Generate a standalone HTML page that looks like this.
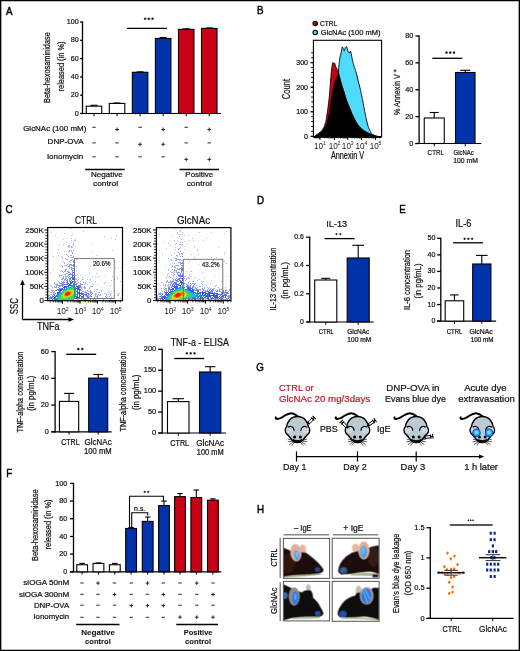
<!DOCTYPE html><html><head><meta charset="utf-8"><style>html,body{margin:0;padding:0;background:#fff;}svg{display:block;font-family:"Liberation Sans",sans-serif;will-change:transform;filter:blur(0.3px);}</style></head><body>
<svg width="520" height="651" viewBox="0 0 520 651">
<rect x="0" y="0" width="520" height="651" fill="#fff"/>
<text x="6.00" y="14.80" font-size="11.4" textLength="6.54" lengthAdjust="spacingAndGlyphs" fill="#000" stroke="#000" stroke-width="0.45">A</text>
<line x1="82.50" y1="21.40" x2="82.50" y2="114.10" stroke="#000" stroke-width="1.30"/>
<line x1="80.10" y1="113.50" x2="82.50" y2="113.50" stroke="#000" stroke-width="1.30"/>
<text x="74.72" y="115.58" font-size="7.70" textLength="3.98" lengthAdjust="spacingAndGlyphs" fill="#111" stroke="#111" stroke-width="0.22">0</text>
<line x1="80.10" y1="95.20" x2="82.50" y2="95.20" stroke="#000" stroke-width="1.30"/>
<text x="70.74" y="97.28" font-size="7.70" textLength="7.96" lengthAdjust="spacingAndGlyphs" fill="#111" stroke="#111" stroke-width="0.22">20</text>
<line x1="80.10" y1="76.90" x2="82.50" y2="76.90" stroke="#000" stroke-width="1.30"/>
<text x="70.74" y="78.98" font-size="7.70" textLength="7.96" lengthAdjust="spacingAndGlyphs" fill="#111" stroke="#111" stroke-width="0.22">40</text>
<line x1="80.10" y1="58.60" x2="82.50" y2="58.60" stroke="#000" stroke-width="1.30"/>
<text x="70.74" y="60.68" font-size="7.70" textLength="7.96" lengthAdjust="spacingAndGlyphs" fill="#111" stroke="#111" stroke-width="0.22">60</text>
<line x1="80.10" y1="40.30" x2="82.50" y2="40.30" stroke="#000" stroke-width="1.30"/>
<text x="70.74" y="42.38" font-size="7.70" textLength="7.96" lengthAdjust="spacingAndGlyphs" fill="#111" stroke="#111" stroke-width="0.22">80</text>
<line x1="80.10" y1="22.00" x2="82.50" y2="22.00" stroke="#000" stroke-width="1.30"/>
<text x="66.75" y="24.08" font-size="7.70" textLength="11.95" lengthAdjust="spacingAndGlyphs" fill="#111" stroke="#111" stroke-width="0.22">100</text>
<text transform="translate(50.41 67.60) rotate(-90)" x="0" y="0" text-anchor="middle" font-size="8.50" textLength="70.70" lengthAdjust="spacingAndGlyphs" fill="#111" stroke="#111" stroke-width="0.22">Beta-hexosaminidase</text>
<text transform="translate(63.50 66.50) rotate(-90)" x="0" y="0" text-anchor="middle" font-size="8.50" textLength="49.90" lengthAdjust="spacingAndGlyphs" fill="#111" stroke="#111" stroke-width="0.22">released (in %)</text>
<line x1="82.50" y1="113.50" x2="221.00" y2="113.50" stroke="#000" stroke-width="1.20"/>
<line x1="94.00" y1="113.50" x2="94.00" y2="116.30" stroke="#000" stroke-width="1.00"/>
<line x1="94.00" y1="106.18" x2="94.00" y2="105.27" stroke="#000" stroke-width="1.10"/>
<line x1="90.50" y1="105.27" x2="97.50" y2="105.27" stroke="#000" stroke-width="1.10"/>
<rect x="86.25" y="106.18" width="15.50" height="7.32" fill="#fff" stroke="#000" stroke-width="1.10"/>
<line x1="117.05" y1="113.50" x2="117.05" y2="116.30" stroke="#000" stroke-width="1.00"/>
<line x1="117.05" y1="103.44" x2="117.05" y2="102.98" stroke="#000" stroke-width="1.10"/>
<line x1="113.55" y1="102.98" x2="120.55" y2="102.98" stroke="#000" stroke-width="1.10"/>
<rect x="109.30" y="103.44" width="15.50" height="10.06" fill="#fff" stroke="#000" stroke-width="1.10"/>
<line x1="140.10" y1="113.50" x2="140.10" y2="116.30" stroke="#000" stroke-width="1.00"/>
<line x1="140.10" y1="72.32" x2="140.10" y2="71.87" stroke="#000" stroke-width="1.10"/>
<line x1="136.60" y1="71.87" x2="143.60" y2="71.87" stroke="#000" stroke-width="1.10"/>
<rect x="132.35" y="72.32" width="15.50" height="41.18" fill="#0233ab" stroke="#000" stroke-width="1.10"/>
<line x1="163.15" y1="113.50" x2="163.15" y2="116.30" stroke="#000" stroke-width="1.00"/>
<line x1="163.15" y1="38.47" x2="163.15" y2="37.55" stroke="#000" stroke-width="1.10"/>
<line x1="159.65" y1="37.55" x2="166.65" y2="37.55" stroke="#000" stroke-width="1.10"/>
<rect x="155.40" y="38.47" width="15.50" height="75.03" fill="#0233ab" stroke="#000" stroke-width="1.10"/>
<line x1="186.20" y1="113.50" x2="186.20" y2="116.30" stroke="#000" stroke-width="1.00"/>
<line x1="186.20" y1="29.32" x2="186.20" y2="28.86" stroke="#000" stroke-width="1.10"/>
<line x1="182.70" y1="28.86" x2="189.70" y2="28.86" stroke="#000" stroke-width="1.10"/>
<rect x="178.45" y="29.32" width="15.50" height="84.18" fill="#c90016" stroke="#000" stroke-width="1.10"/>
<line x1="209.25" y1="113.50" x2="209.25" y2="116.30" stroke="#000" stroke-width="1.00"/>
<line x1="209.25" y1="28.41" x2="209.25" y2="27.95" stroke="#000" stroke-width="1.10"/>
<line x1="205.75" y1="27.95" x2="212.75" y2="27.95" stroke="#000" stroke-width="1.10"/>
<rect x="201.50" y="28.41" width="15.50" height="85.09" fill="#c90016" stroke="#000" stroke-width="1.10"/>
<line x1="127.00" y1="28.30" x2="167.00" y2="28.30" stroke="#000" stroke-width="1.35"/>
<polygon points="145.20,17.50 145.62,18.22 146.44,18.40 145.88,19.02 145.96,19.85 145.20,19.52 144.44,19.85 144.52,19.02 143.96,18.40 144.78,18.22" fill="#000" stroke="#000" stroke-width="0.35" stroke-linejoin="round"/>
<polygon points="148.85,17.50 149.27,18.22 150.09,18.40 149.53,19.02 149.61,19.85 148.85,19.52 148.09,19.85 148.17,19.02 147.61,18.40 148.43,18.22" fill="#000" stroke="#000" stroke-width="0.35" stroke-linejoin="round"/>
<polygon points="152.50,17.50 152.92,18.22 153.74,18.40 153.18,19.02 153.26,19.85 152.50,19.52 151.74,19.85 151.82,19.02 151.26,18.40 152.08,18.22" fill="#000" stroke="#000" stroke-width="0.35" stroke-linejoin="round"/>
<text x="23.20" y="130.60" font-size="8.00" textLength="63.10" lengthAdjust="spacingAndGlyphs" fill="#111" stroke="#111" stroke-width="0.22">GlcNAc (100 mM)</text>
<line x1="92.25" y1="127.30" x2="95.75" y2="127.30" stroke="#222" stroke-width="0.95"/>
<line x1="115.15" y1="129.50" x2="118.95" y2="129.50" stroke="#222" stroke-width="0.95"/>
<line x1="117.05" y1="127.60" x2="117.05" y2="131.40" stroke="#222" stroke-width="0.95"/>
<line x1="138.35" y1="127.30" x2="141.85" y2="127.30" stroke="#222" stroke-width="0.95"/>
<line x1="161.25" y1="129.50" x2="165.05" y2="129.50" stroke="#222" stroke-width="0.95"/>
<line x1="163.15" y1="127.60" x2="163.15" y2="131.40" stroke="#222" stroke-width="0.95"/>
<line x1="184.45" y1="127.30" x2="187.95" y2="127.30" stroke="#222" stroke-width="0.95"/>
<line x1="207.35" y1="129.50" x2="211.15" y2="129.50" stroke="#222" stroke-width="0.95"/>
<line x1="209.25" y1="127.60" x2="209.25" y2="131.40" stroke="#222" stroke-width="0.95"/>
<text x="47.60" y="144.30" font-size="8.00" textLength="36.00" lengthAdjust="spacingAndGlyphs" fill="#111" stroke="#111" stroke-width="0.22">DNP-OVA</text>
<line x1="92.25" y1="142.90" x2="95.75" y2="142.90" stroke="#222" stroke-width="0.95"/>
<line x1="115.30" y1="142.90" x2="118.80" y2="142.90" stroke="#222" stroke-width="0.95"/>
<line x1="138.20" y1="144.30" x2="142.00" y2="144.30" stroke="#222" stroke-width="0.95"/>
<line x1="140.10" y1="142.40" x2="140.10" y2="146.20" stroke="#222" stroke-width="0.95"/>
<line x1="161.25" y1="144.30" x2="165.05" y2="144.30" stroke="#222" stroke-width="0.95"/>
<line x1="163.15" y1="142.40" x2="163.15" y2="146.20" stroke="#222" stroke-width="0.95"/>
<line x1="184.45" y1="142.90" x2="187.95" y2="142.90" stroke="#222" stroke-width="0.95"/>
<line x1="207.50" y1="142.90" x2="211.00" y2="142.90" stroke="#222" stroke-width="0.95"/>
<text x="46.90" y="158.60" font-size="8.00" textLength="36.30" lengthAdjust="spacingAndGlyphs" fill="#111" stroke="#111" stroke-width="0.22">Ionomycin</text>
<line x1="92.25" y1="156.80" x2="95.75" y2="156.80" stroke="#222" stroke-width="0.95"/>
<line x1="115.30" y1="156.80" x2="118.80" y2="156.80" stroke="#222" stroke-width="0.95"/>
<line x1="138.35" y1="156.80" x2="141.85" y2="156.80" stroke="#222" stroke-width="0.95"/>
<line x1="161.40" y1="156.80" x2="164.90" y2="156.80" stroke="#222" stroke-width="0.95"/>
<line x1="184.30" y1="159.40" x2="188.10" y2="159.40" stroke="#222" stroke-width="0.95"/>
<line x1="186.20" y1="157.50" x2="186.20" y2="161.30" stroke="#222" stroke-width="0.95"/>
<line x1="207.35" y1="159.40" x2="211.15" y2="159.40" stroke="#222" stroke-width="0.95"/>
<line x1="209.25" y1="157.50" x2="209.25" y2="161.30" stroke="#222" stroke-width="0.95"/>
<line x1="85.20" y1="169.50" x2="124.70" y2="169.50" stroke="#000" stroke-width="1.35"/>
<line x1="179.50" y1="169.50" x2="219.00" y2="169.50" stroke="#000" stroke-width="1.35"/>
<text x="91.00" y="177.30" font-size="8.10" textLength="31.70" lengthAdjust="spacingAndGlyphs" fill="#111" stroke="#111" stroke-width="0.22">Negative</text>
<text x="93.00" y="185.60" font-size="8.10" textLength="25.00" lengthAdjust="spacingAndGlyphs" fill="#111" stroke="#111" stroke-width="0.22">control</text>
<text x="185.30" y="177.30" font-size="8.10" textLength="28.00" lengthAdjust="spacingAndGlyphs" fill="#111" stroke="#111" stroke-width="0.22">Positive</text>
<text x="186.70" y="185.60" font-size="8.10" textLength="25.10" lengthAdjust="spacingAndGlyphs" fill="#111" stroke="#111" stroke-width="0.22">control</text>
<text x="257.00" y="14.40" font-size="11.4" textLength="6.54" lengthAdjust="spacingAndGlyphs" fill="#000" stroke="#000" stroke-width="0.45">B</text>
<circle cx="315.2" cy="23.4" r="2.2" fill="#c90016" stroke="#000" stroke-width="1.1"/>
<circle cx="315.2" cy="32.4" r="2.2" fill="#50daff" stroke="#000" stroke-width="1.1"/>
<text x="319.90" y="25.70" font-size="7.20" textLength="17.30" lengthAdjust="spacingAndGlyphs" fill="#111" stroke="#111" stroke-width="0.22">CTRL</text>
<text x="320.80" y="34.60" font-size="7.40" textLength="59.70" lengthAdjust="spacingAndGlyphs" fill="#111" stroke="#111" stroke-width="0.22">GlcNAc (100 mM)</text>
<polygon points="314.00,137.00 314.00,137.00 314.25,136.82 314.50,136.65 314.75,136.47 315.00,136.30 315.25,136.12 315.50,135.95 315.75,135.78 316.00,135.60 316.25,135.43 316.50,135.25 316.75,135.08 317.00,134.90 317.25,134.74 317.50,134.58 317.75,134.43 318.00,134.27 318.25,134.11 318.50,133.95 318.75,133.79 319.00,133.63 319.25,133.47 319.50,133.32 319.75,133.16 320.00,133.00 320.25,132.79 320.50,132.57 320.75,132.36 321.00,132.15 321.25,131.94 321.50,131.73 321.75,131.51 322.00,131.30 322.25,130.99 322.50,130.68 322.75,130.36 323.00,130.05 323.25,129.74 323.50,129.43 323.75,129.11 324.00,128.80 324.25,128.33 324.50,127.87 324.75,127.40 325.00,126.93 325.25,126.47 325.50,126.00 325.75,125.42 326.00,124.83 326.25,124.25 326.50,123.67 326.75,123.08 327.00,122.50 327.25,121.45 327.50,120.40 327.75,119.35 328.00,118.30 328.25,117.25 328.50,116.20 328.75,115.15 329.00,114.10 329.25,113.05 329.50,112.00 329.75,110.17 330.00,108.33 330.25,106.50 330.50,104.67 330.75,102.83 331.00,101.00 331.25,99.53 331.50,98.06 331.75,96.59 332.00,95.12 332.25,93.65 332.50,92.18 332.75,90.77 333.00,89.59 333.25,88.42 333.50,87.25 333.75,86.08 334.00,84.91 334.25,83.73 334.50,82.90 334.75,82.15 335.00,81.40 335.25,80.65 335.50,79.90 335.75,79.15 336.00,78.69 336.25,78.30 336.50,77.91 336.75,77.52 337.00,77.12 337.25,76.73 337.50,76.19 337.75,75.41 338.00,74.62 338.25,73.41 338.50,70.47 338.75,67.54 339.00,64.60 339.25,62.70 339.50,60.80 339.75,58.90 340.00,57.00 340.25,56.04 340.50,55.08 340.75,54.12 341.00,53.15 341.25,52.19 341.50,50.90 341.75,49.53 342.00,48.15 342.25,46.78 342.50,47.00 342.75,47.62 343.00,48.25 343.25,48.87 343.50,49.40 343.75,49.90 344.00,50.40 344.25,50.90 344.50,50.30 344.75,49.43 345.00,48.55 345.25,47.68 345.50,47.33 345.75,47.13 346.00,46.92 346.25,46.71 346.50,46.50 346.75,47.25 347.00,48.00 347.25,48.75 347.50,49.50 347.75,50.25 348.00,51.00 348.25,51.75 348.50,52.50 348.75,52.62 349.00,52.75 349.25,52.88 349.50,53.00 349.75,52.50 350.00,52.00 350.25,51.50 350.50,51.00 350.75,52.00 351.00,53.00 351.25,54.00 351.50,55.00 351.75,56.50 352.00,58.00 352.25,59.50 352.50,61.00 352.75,61.83 353.00,62.67 353.25,63.50 353.50,64.33 353.75,65.17 354.00,66.00 354.25,66.75 354.50,67.50 354.75,68.25 355.00,69.00 355.25,69.75 355.50,70.50 355.75,71.25 356.00,72.00 356.25,73.00 356.50,74.00 356.75,75.00 357.00,76.00 357.25,77.00 357.50,78.00 357.75,79.00 358.00,80.00 358.25,81.00 358.50,82.00 358.75,83.00 359.00,84.00 359.25,85.00 359.50,86.00 359.75,87.00 360.00,88.00 360.25,89.12 360.50,90.25 360.75,91.38 361.00,92.50 361.25,93.62 361.50,94.75 361.75,95.88 362.00,97.00 362.25,98.33 362.50,99.67 362.75,101.00 363.00,102.33 363.25,103.67 363.50,105.00 363.75,106.33 364.00,107.67 364.25,109.00 364.50,110.33 364.75,111.67 365.00,113.00 365.25,114.17 365.50,115.33 365.75,116.50 366.00,117.67 366.25,118.83 366.50,120.00 366.75,121.00 367.00,122.00 367.25,123.00 367.50,124.00 367.75,125.00 368.00,126.00 368.25,126.62 368.50,127.25 368.75,127.88 369.00,128.50 369.25,129.12 369.50,129.75 369.75,130.38 370.00,131.00 370.25,131.38 370.50,131.75 370.75,132.12 371.00,132.50 371.25,132.88 371.50,133.25 371.75,133.62 372.00,134.00 372.25,134.17 372.50,134.33 372.75,134.50 373.00,134.67 373.25,134.83 373.50,135.00 373.75,135.17 374.00,135.33 374.25,135.50 374.50,135.67 374.75,135.83 375.00,136.00 375.25,136.04 375.50,136.08 375.75,136.12 376.00,136.17 376.25,136.21 376.50,136.25 376.75,136.29 377.00,136.33 377.25,136.38 377.50,136.42 377.75,136.46 378.00,136.50 378.25,136.54 378.50,136.58 378.75,136.62 379.00,136.67 379.25,136.71 379.50,136.75 379.75,136.79 380.00,136.83 380.25,136.88 380.50,136.92 380.75,136.96 381.00,137.00 381.00,137.00" fill="#50daff" stroke="#000" stroke-width="0.90" stroke-linejoin="round"/>
<polygon points="314.00,137.00 314.00,137.00 314.25,136.80 314.50,136.60 314.75,136.40 315.00,136.20 315.25,136.00 315.50,135.80 315.75,135.60 316.00,135.40 316.25,135.20 316.50,135.00 316.75,134.80 317.00,134.60 317.25,134.42 317.50,134.23 317.75,134.05 318.00,133.87 318.25,133.68 318.50,133.50 318.75,133.32 319.00,133.13 319.25,132.95 319.50,132.77 319.75,132.58 320.00,132.40 320.25,132.14 320.50,131.88 320.75,131.61 321.00,131.35 321.25,131.09 321.50,130.83 321.75,130.56 322.00,130.30 322.25,129.91 322.50,129.53 322.75,129.14 323.00,128.75 323.25,128.36 323.50,127.98 323.75,127.59 324.00,127.20 324.25,126.42 324.50,125.65 324.75,124.88 325.00,124.10 325.25,123.33 325.50,122.55 325.75,121.78 326.00,121.00 326.25,119.38 326.50,117.75 326.75,116.12 327.00,114.50 327.25,112.88 327.50,111.25 327.75,109.62 328.00,108.00 328.25,105.83 328.50,103.67 328.75,101.50 329.00,99.33 329.25,97.17 329.50,95.00 329.75,91.75 330.00,88.50 330.25,85.25 330.50,82.00 330.75,79.00 331.00,76.00 331.25,73.00 331.50,70.00 331.75,68.28 332.00,66.56 332.25,64.84 332.50,63.93 332.75,63.21 333.00,62.50 333.25,62.97 333.50,63.44 333.75,63.91 334.00,63.70 334.25,63.33 334.50,62.95 334.75,63.33 335.00,64.22 335.25,65.11 335.50,66.00 335.75,66.50 336.00,67.00 336.25,67.50 336.50,68.00 336.75,68.50 337.00,69.00 337.25,69.67 337.50,70.33 337.75,71.00 338.00,71.67 338.25,72.33 338.50,73.00 338.75,74.00 339.00,75.00 339.25,76.00 339.50,77.00 339.75,78.00 340.00,79.00 340.25,79.88 340.50,80.75 340.75,81.62 341.00,82.50 341.25,83.38 341.50,84.25 341.75,85.12 342.00,86.00 342.25,86.75 342.50,87.50 342.75,88.25 343.00,89.00 343.25,89.75 343.50,90.50 343.75,91.25 344.00,92.00 344.25,92.88 344.50,93.75 344.75,94.62 345.00,95.50 345.25,96.38 345.50,97.25 345.75,98.12 346.00,99.00 346.25,99.62 346.50,100.25 346.75,100.88 347.00,101.50 347.25,102.12 347.50,102.75 347.75,103.38 348.00,104.00 348.25,104.62 348.50,105.25 348.75,105.88 349.00,106.50 349.25,107.12 349.50,107.75 349.75,108.38 350.00,109.00 350.25,109.62 350.50,110.25 350.75,110.88 351.00,111.50 351.25,112.12 351.50,112.75 351.75,113.38 352.00,114.00 352.25,114.50 352.50,115.00 352.75,115.50 353.00,116.00 353.25,116.50 353.50,117.00 353.75,117.50 354.00,118.00 354.25,118.50 354.50,119.00 354.75,119.50 355.00,120.00 355.25,120.50 355.50,121.00 355.75,121.50 356.00,122.00 356.25,122.38 356.50,122.75 356.75,123.12 357.00,123.50 357.25,123.88 357.50,124.25 357.75,124.62 358.00,125.00 358.25,125.25 358.50,125.50 358.75,125.75 359.00,126.00 359.25,126.25 359.50,126.50 359.75,126.75 360.00,127.00 360.25,127.25 360.50,127.50 360.75,127.75 361.00,128.00 361.25,128.25 361.50,128.50 361.75,128.75 362.00,129.00 362.25,129.25 362.50,129.50 362.75,129.75 363.00,130.00 363.25,130.17 363.50,130.33 363.75,130.50 364.00,130.67 364.25,130.83 364.50,131.00 364.75,131.17 365.00,131.33 365.25,131.50 365.50,131.67 365.75,131.83 366.00,132.00 366.25,132.12 366.50,132.25 366.75,132.38 367.00,132.50 367.25,132.62 367.50,132.75 367.75,132.88 368.00,133.00 368.25,133.12 368.50,133.25 368.75,133.38 369.00,133.50 369.25,133.58 369.50,133.67 369.75,133.75 370.00,133.83 370.25,133.92 370.50,134.00 370.75,134.08 371.00,134.17 371.25,134.25 371.50,134.33 371.75,134.42 372.00,134.50 372.25,134.59 372.50,134.69 372.75,134.78 373.00,134.88 373.25,134.97 373.50,135.06 373.75,135.16 374.00,135.25 374.25,135.34 374.50,135.44 374.75,135.53 375.00,135.62 375.25,135.72 375.50,135.81 375.75,135.91 376.00,136.00 376.25,136.05 376.50,136.10 376.75,136.15 377.00,136.20 377.25,136.25 377.50,136.30 377.75,136.35 378.00,136.40 378.25,136.45 378.50,136.50 378.75,136.55 379.00,136.60 379.25,136.65 379.50,136.70 379.75,136.75 380.00,136.80 380.25,136.85 380.50,136.90 380.75,136.95 381.00,137.00 381.00,137.00" fill="#c90016" stroke="#000" stroke-width="0.90" stroke-linejoin="round"/>
<polygon points="314.00,137.00 314.00,137.00 314.25,136.82 314.50,136.65 314.75,136.47 315.00,136.30 315.25,136.12 315.50,135.95 315.75,135.78 316.00,135.60 316.25,135.43 316.50,135.25 316.75,135.08 317.00,134.90 317.25,134.74 317.50,134.58 317.75,134.43 318.00,134.27 318.25,134.11 318.50,133.95 318.75,133.79 319.00,133.63 319.25,133.47 319.50,133.32 319.75,133.16 320.00,133.00 320.25,132.79 320.50,132.57 320.75,132.36 321.00,132.15 321.25,131.94 321.50,131.73 321.75,131.51 322.00,131.30 322.25,130.99 322.50,130.68 322.75,130.36 323.00,130.05 323.25,129.74 323.50,129.43 323.75,129.11 324.00,128.80 324.25,128.33 324.50,127.87 324.75,127.40 325.00,126.93 325.25,126.47 325.50,126.00 325.75,125.42 326.00,124.83 326.25,124.25 326.50,123.67 326.75,123.08 327.00,122.50 327.25,121.45 327.50,120.40 327.75,119.35 328.00,118.30 328.25,117.25 328.50,116.20 328.75,115.15 329.00,114.10 329.25,113.05 329.50,112.00 329.75,110.17 330.00,108.33 330.25,106.50 330.50,104.67 330.75,102.83 331.00,101.00 331.25,99.53 331.50,98.06 331.75,96.59 332.00,95.12 332.25,93.65 332.50,92.18 332.75,90.77 333.00,89.59 333.25,88.42 333.50,87.25 333.75,86.08 334.00,84.91 334.25,83.73 334.50,82.90 334.75,82.15 335.00,81.40 335.25,80.65 335.50,79.90 335.75,79.15 336.00,78.69 336.25,78.30 336.50,77.91 336.75,77.52 337.00,77.12 337.25,76.73 337.50,76.19 337.75,75.41 338.00,74.62 338.25,73.41 338.50,73.00 338.75,74.00 339.00,75.00 339.25,76.00 339.50,77.00 339.75,78.00 340.00,79.00 340.25,79.88 340.50,80.75 340.75,81.62 341.00,82.50 341.25,83.38 341.50,84.25 341.75,85.12 342.00,86.00 342.25,86.75 342.50,87.50 342.75,88.25 343.00,89.00 343.25,89.75 343.50,90.50 343.75,91.25 344.00,92.00 344.25,92.88 344.50,93.75 344.75,94.62 345.00,95.50 345.25,96.38 345.50,97.25 345.75,98.12 346.00,99.00 346.25,99.62 346.50,100.25 346.75,100.88 347.00,101.50 347.25,102.12 347.50,102.75 347.75,103.38 348.00,104.00 348.25,104.62 348.50,105.25 348.75,105.88 349.00,106.50 349.25,107.12 349.50,107.75 349.75,108.38 350.00,109.00 350.25,109.62 350.50,110.25 350.75,110.88 351.00,111.50 351.25,112.12 351.50,112.75 351.75,113.38 352.00,114.00 352.25,114.50 352.50,115.00 352.75,115.50 353.00,116.00 353.25,116.50 353.50,117.00 353.75,117.50 354.00,118.00 354.25,118.50 354.50,119.00 354.75,119.50 355.00,120.00 355.25,120.50 355.50,121.00 355.75,121.50 356.00,122.00 356.25,122.38 356.50,122.75 356.75,123.12 357.00,123.50 357.25,123.88 357.50,124.25 357.75,124.62 358.00,125.00 358.25,125.25 358.50,125.50 358.75,125.75 359.00,126.00 359.25,126.25 359.50,126.50 359.75,126.75 360.00,127.00 360.25,127.25 360.50,127.50 360.75,127.75 361.00,128.00 361.25,128.25 361.50,128.50 361.75,128.75 362.00,129.00 362.25,129.25 362.50,129.50 362.75,129.75 363.00,130.00 363.25,130.17 363.50,130.33 363.75,130.50 364.00,130.67 364.25,130.83 364.50,131.00 364.75,131.17 365.00,131.33 365.25,131.50 365.50,131.67 365.75,131.83 366.00,132.00 366.25,132.12 366.50,132.25 366.75,132.38 367.00,132.50 367.25,132.62 367.50,132.75 367.75,132.88 368.00,133.00 368.25,133.12 368.50,133.25 368.75,133.38 369.00,133.50 369.25,133.58 369.50,133.67 369.75,133.75 370.00,133.83 370.25,133.92 370.50,134.00 370.75,134.08 371.00,134.17 371.25,134.25 371.50,134.33 371.75,134.42 372.00,134.50 372.25,134.59 372.50,134.69 372.75,134.78 373.00,134.88 373.25,134.97 373.50,135.06 373.75,135.17 374.00,135.33 374.25,135.50 374.50,135.67 374.75,135.83 375.00,136.00 375.25,136.04 375.50,136.08 375.75,136.12 376.00,136.17 376.25,136.21 376.50,136.25 376.75,136.29 377.00,136.33 377.25,136.38 377.50,136.42 377.75,136.46 378.00,136.50 378.25,136.54 378.50,136.58 378.75,136.62 379.00,136.67 379.25,136.71 379.50,136.75 379.75,136.79 380.00,136.83 380.25,136.88 380.50,136.92 380.75,136.96 381.00,137.00 381.00,137.00" fill="#000" stroke="#000" stroke-width="0.50" stroke-linejoin="round"/>
<rect x="313.40" y="40.30" width="68.20" height="96.70" fill="none" stroke="#000" stroke-width="1.10"/>
<line x1="310.40" y1="136.30" x2="313.40" y2="136.30" stroke="#000" stroke-width="1.00"/>
<text x="304.11" y="138.80" font-size="7.00" fill="#111" stroke="#111" stroke-width="0.22">0</text>
<line x1="310.40" y1="111.77" x2="313.40" y2="111.77" stroke="#000" stroke-width="1.00"/>
<text x="296.32" y="114.27" font-size="7.00" fill="#111" stroke="#111" stroke-width="0.22">100</text>
<line x1="310.40" y1="87.23" x2="313.40" y2="87.23" stroke="#000" stroke-width="1.00"/>
<text x="296.32" y="89.73" font-size="7.00" fill="#111" stroke="#111" stroke-width="0.22">200</text>
<line x1="310.40" y1="62.70" x2="313.40" y2="62.70" stroke="#000" stroke-width="1.00"/>
<text x="296.32" y="65.20" font-size="7.00" fill="#111" stroke="#111" stroke-width="0.22">300</text>
<line x1="311.10" y1="136.30" x2="313.40" y2="136.30" stroke="#000" stroke-width="0.90"/>
<line x1="311.10" y1="131.39" x2="313.40" y2="131.39" stroke="#000" stroke-width="0.90"/>
<line x1="311.10" y1="126.49" x2="313.40" y2="126.49" stroke="#000" stroke-width="0.90"/>
<line x1="311.10" y1="121.58" x2="313.40" y2="121.58" stroke="#000" stroke-width="0.90"/>
<line x1="311.10" y1="116.67" x2="313.40" y2="116.67" stroke="#000" stroke-width="0.90"/>
<line x1="311.10" y1="111.77" x2="313.40" y2="111.77" stroke="#000" stroke-width="0.90"/>
<line x1="311.10" y1="106.86" x2="313.40" y2="106.86" stroke="#000" stroke-width="0.90"/>
<line x1="311.10" y1="101.95" x2="313.40" y2="101.95" stroke="#000" stroke-width="0.90"/>
<line x1="311.10" y1="97.05" x2="313.40" y2="97.05" stroke="#000" stroke-width="0.90"/>
<line x1="311.10" y1="92.14" x2="313.40" y2="92.14" stroke="#000" stroke-width="0.90"/>
<line x1="311.10" y1="87.23" x2="313.40" y2="87.23" stroke="#000" stroke-width="0.90"/>
<line x1="311.10" y1="82.33" x2="313.40" y2="82.33" stroke="#000" stroke-width="0.90"/>
<line x1="311.10" y1="77.42" x2="313.40" y2="77.42" stroke="#000" stroke-width="0.90"/>
<line x1="311.10" y1="72.51" x2="313.40" y2="72.51" stroke="#000" stroke-width="0.90"/>
<line x1="311.10" y1="67.61" x2="313.40" y2="67.61" stroke="#000" stroke-width="0.90"/>
<line x1="311.10" y1="62.70" x2="313.40" y2="62.70" stroke="#000" stroke-width="0.90"/>
<line x1="311.10" y1="57.79" x2="313.40" y2="57.79" stroke="#000" stroke-width="0.90"/>
<line x1="311.10" y1="52.89" x2="313.40" y2="52.89" stroke="#000" stroke-width="0.90"/>
<line x1="320.00" y1="137.00" x2="320.00" y2="140.00" stroke="#000" stroke-width="1.00"/>
<text x="314.03" y="148.60" font-size="8.20" fill="#1a1a1a">10</text>
<text x="322.95" y="145.32" font-size="5.08" fill="#1a1a1a">1</text>
<line x1="334.60" y1="137.00" x2="334.60" y2="140.00" stroke="#000" stroke-width="1.00"/>
<text x="328.63" y="148.60" font-size="8.20" fill="#1a1a1a">10</text>
<text x="337.55" y="145.32" font-size="5.08" fill="#1a1a1a">2</text>
<line x1="347.80" y1="137.00" x2="347.80" y2="140.00" stroke="#000" stroke-width="1.00"/>
<text x="341.83" y="148.60" font-size="8.20" fill="#1a1a1a">10</text>
<text x="350.75" y="145.32" font-size="5.08" fill="#1a1a1a">3</text>
<line x1="361.50" y1="137.00" x2="361.50" y2="140.00" stroke="#000" stroke-width="1.00"/>
<text x="355.53" y="148.60" font-size="8.20" fill="#1a1a1a">10</text>
<text x="364.45" y="145.32" font-size="5.08" fill="#1a1a1a">4</text>
<line x1="375.60" y1="137.00" x2="375.60" y2="140.00" stroke="#000" stroke-width="1.00"/>
<text x="369.63" y="148.60" font-size="8.20" fill="#1a1a1a">10</text>
<text x="378.55" y="145.32" font-size="5.08" fill="#1a1a1a">5</text>
<line x1="314.47" y1="137.00" x2="314.47" y2="138.50" stroke="#000" stroke-width="0.60"/>
<line x1="315.82" y1="137.00" x2="315.82" y2="138.50" stroke="#000" stroke-width="0.60"/>
<line x1="316.92" y1="137.00" x2="316.92" y2="138.50" stroke="#000" stroke-width="0.60"/>
<line x1="317.85" y1="137.00" x2="317.85" y2="138.50" stroke="#000" stroke-width="0.60"/>
<line x1="318.65" y1="137.00" x2="318.65" y2="138.50" stroke="#000" stroke-width="0.60"/>
<line x1="319.36" y1="137.00" x2="319.36" y2="138.50" stroke="#000" stroke-width="0.60"/>
<line x1="324.18" y1="137.00" x2="324.18" y2="138.50" stroke="#000" stroke-width="0.60"/>
<line x1="326.63" y1="137.00" x2="326.63" y2="138.50" stroke="#000" stroke-width="0.60"/>
<line x1="328.37" y1="137.00" x2="328.37" y2="138.50" stroke="#000" stroke-width="0.60"/>
<line x1="329.72" y1="137.00" x2="329.72" y2="138.50" stroke="#000" stroke-width="0.60"/>
<line x1="330.82" y1="137.00" x2="330.82" y2="138.50" stroke="#000" stroke-width="0.60"/>
<line x1="331.75" y1="137.00" x2="331.75" y2="138.50" stroke="#000" stroke-width="0.60"/>
<line x1="332.55" y1="137.00" x2="332.55" y2="138.50" stroke="#000" stroke-width="0.60"/>
<line x1="333.26" y1="137.00" x2="333.26" y2="138.50" stroke="#000" stroke-width="0.60"/>
<line x1="338.08" y1="137.00" x2="338.08" y2="138.50" stroke="#000" stroke-width="0.60"/>
<line x1="340.53" y1="137.00" x2="340.53" y2="138.50" stroke="#000" stroke-width="0.60"/>
<line x1="342.27" y1="137.00" x2="342.27" y2="138.50" stroke="#000" stroke-width="0.60"/>
<line x1="343.62" y1="137.00" x2="343.62" y2="138.50" stroke="#000" stroke-width="0.60"/>
<line x1="344.72" y1="137.00" x2="344.72" y2="138.50" stroke="#000" stroke-width="0.60"/>
<line x1="345.65" y1="137.00" x2="345.65" y2="138.50" stroke="#000" stroke-width="0.60"/>
<line x1="346.45" y1="137.00" x2="346.45" y2="138.50" stroke="#000" stroke-width="0.60"/>
<line x1="347.16" y1="137.00" x2="347.16" y2="138.50" stroke="#000" stroke-width="0.60"/>
<line x1="351.98" y1="137.00" x2="351.98" y2="138.50" stroke="#000" stroke-width="0.60"/>
<line x1="354.43" y1="137.00" x2="354.43" y2="138.50" stroke="#000" stroke-width="0.60"/>
<line x1="356.17" y1="137.00" x2="356.17" y2="138.50" stroke="#000" stroke-width="0.60"/>
<line x1="357.52" y1="137.00" x2="357.52" y2="138.50" stroke="#000" stroke-width="0.60"/>
<line x1="358.62" y1="137.00" x2="358.62" y2="138.50" stroke="#000" stroke-width="0.60"/>
<line x1="359.55" y1="137.00" x2="359.55" y2="138.50" stroke="#000" stroke-width="0.60"/>
<line x1="360.35" y1="137.00" x2="360.35" y2="138.50" stroke="#000" stroke-width="0.60"/>
<line x1="361.06" y1="137.00" x2="361.06" y2="138.50" stroke="#000" stroke-width="0.60"/>
<line x1="365.88" y1="137.00" x2="365.88" y2="138.50" stroke="#000" stroke-width="0.60"/>
<line x1="368.33" y1="137.00" x2="368.33" y2="138.50" stroke="#000" stroke-width="0.60"/>
<line x1="370.07" y1="137.00" x2="370.07" y2="138.50" stroke="#000" stroke-width="0.60"/>
<line x1="371.42" y1="137.00" x2="371.42" y2="138.50" stroke="#000" stroke-width="0.60"/>
<line x1="372.52" y1="137.00" x2="372.52" y2="138.50" stroke="#000" stroke-width="0.60"/>
<line x1="373.45" y1="137.00" x2="373.45" y2="138.50" stroke="#000" stroke-width="0.60"/>
<line x1="374.25" y1="137.00" x2="374.25" y2="138.50" stroke="#000" stroke-width="0.60"/>
<line x1="374.96" y1="137.00" x2="374.96" y2="138.50" stroke="#000" stroke-width="0.60"/>
<line x1="379.78" y1="137.00" x2="379.78" y2="138.50" stroke="#000" stroke-width="0.60"/>
<text x="330.90" y="159.40" font-size="10.20" textLength="33.20" lengthAdjust="spacingAndGlyphs" fill="#111" stroke="#111" stroke-width="0.22">Annexin V</text>
<text transform="translate(289.82 89.00) rotate(-90)" x="0" y="0" text-anchor="middle" font-size="10.30" textLength="20.40" lengthAdjust="spacingAndGlyphs" fill="#111" stroke="#111" stroke-width="0.22">Count</text>
<line x1="419.10" y1="35.38" x2="419.10" y2="144.10" stroke="#000" stroke-width="1.30"/>
<line x1="415.40" y1="143.50" x2="419.10" y2="143.50" stroke="#000" stroke-width="1.30"/>
<text x="409.17" y="145.61" font-size="7.80" textLength="4.03" lengthAdjust="spacingAndGlyphs" fill="#111" stroke="#111" stroke-width="0.22">0</text>
<line x1="415.40" y1="116.62" x2="419.10" y2="116.62" stroke="#000" stroke-width="1.30"/>
<text x="405.13" y="118.73" font-size="7.80" textLength="8.07" lengthAdjust="spacingAndGlyphs" fill="#111" stroke="#111" stroke-width="0.22">20</text>
<line x1="415.40" y1="89.74" x2="419.10" y2="89.74" stroke="#000" stroke-width="1.30"/>
<text x="405.13" y="91.85" font-size="7.80" textLength="8.07" lengthAdjust="spacingAndGlyphs" fill="#111" stroke="#111" stroke-width="0.22">40</text>
<line x1="415.40" y1="62.86" x2="419.10" y2="62.86" stroke="#000" stroke-width="1.30"/>
<text x="405.13" y="64.97" font-size="7.80" textLength="8.07" lengthAdjust="spacingAndGlyphs" fill="#111" stroke="#111" stroke-width="0.22">60</text>
<line x1="415.40" y1="35.98" x2="419.10" y2="35.98" stroke="#000" stroke-width="1.30"/>
<text x="405.13" y="38.09" font-size="7.80" textLength="8.07" lengthAdjust="spacingAndGlyphs" fill="#111" stroke="#111" stroke-width="0.22">80</text>
<line x1="415.40" y1="143.50" x2="481.25" y2="143.50" stroke="#000" stroke-width="1.20"/>
<line x1="434.25" y1="143.50" x2="434.25" y2="146.30" stroke="#000" stroke-width="1.00"/>
<line x1="465.25" y1="143.50" x2="465.25" y2="146.30" stroke="#000" stroke-width="1.00"/>
<line x1="434.25" y1="118.00" x2="434.25" y2="112.50" stroke="#000" stroke-width="1.10"/>
<line x1="429.75" y1="112.50" x2="438.75" y2="112.50" stroke="#000" stroke-width="1.10"/>
<rect x="424.25" y="118.00" width="20.00" height="25.50" fill="#fff" stroke="#000" stroke-width="1.10"/>
<line x1="465.25" y1="72.50" x2="465.25" y2="70.30" stroke="#000" stroke-width="1.10"/>
<line x1="460.25" y1="70.30" x2="470.25" y2="70.30" stroke="#000" stroke-width="1.10"/>
<rect x="455.50" y="72.50" width="19.50" height="71.00" fill="#0233ab" stroke="#000" stroke-width="1.10"/>
<line x1="432.30" y1="58.30" x2="462.30" y2="58.30" stroke="#000" stroke-width="1.30"/>
<polygon points="446.50,51.30 446.92,52.02 447.74,52.20 447.18,52.82 447.26,53.65 446.50,53.32 445.74,53.65 445.82,52.82 445.26,52.20 446.08,52.02" fill="#000" stroke="#000" stroke-width="0.35" stroke-linejoin="round"/>
<polygon points="450.20,51.30 450.62,52.02 451.44,52.20 450.88,52.82 450.96,53.65 450.20,53.32 449.44,53.65 449.52,52.82 448.96,52.20 449.78,52.02" fill="#000" stroke="#000" stroke-width="0.35" stroke-linejoin="round"/>
<polygon points="454.00,51.30 454.42,52.02 455.24,52.20 454.68,52.82 454.76,53.65 454.00,53.32 453.24,53.65 453.32,52.82 452.76,52.20 453.58,52.02" fill="#000" stroke="#000" stroke-width="0.35" stroke-linejoin="round"/>
<text transform="translate(400.39 94.60) rotate(-90)" x="0" y="0" text-anchor="middle" font-size="8.20" textLength="40.80" lengthAdjust="spacingAndGlyphs" fill="#111" stroke="#111" stroke-width="0.22">% Annexin V</text>
<line x1="395.05" y1="69.30" x2="395.05" y2="72.40" stroke="#222" stroke-width="0.95"/>
<line x1="393.60" y1="70.85" x2="396.50" y2="70.85" stroke="#222" stroke-width="0.95"/>
<text x="427.60" y="155.30" font-size="7.30" textLength="16.40" lengthAdjust="spacingAndGlyphs" fill="#111" stroke="#111" stroke-width="0.22">CTRL</text>
<text x="453.60" y="155.30" font-size="7.30" textLength="20.20" lengthAdjust="spacingAndGlyphs" fill="#111" stroke="#111" stroke-width="0.22">GlcNAc</text>
<text x="453.30" y="163.20" font-size="7.30" textLength="24.60" lengthAdjust="spacingAndGlyphs" fill="#111" stroke="#111" stroke-width="0.22">100 mM</text>
<text x="5.50" y="212.60" font-size="11.4" textLength="7.08" lengthAdjust="spacingAndGlyphs" fill="#000" stroke="#000" stroke-width="0.45">C</text>
<path fill="#b2bcfa" d="M69 228h1v1h-1zM71 228h1v1h-1zM83 231h1v1h-1zM51 232h1v1h-1zM64 233h1v1h-1zM72 234h1v1h-1zM55 235h1v1h-1zM71 235h1v1h-1zM116 235h1v1h-1zM104 236h1v1h-1zM71 238h1v1h-1zM111 238h1v1h-1zM63 239h1v1h-1zM75 239h1v1h-1zM115 239h1v1h-1zM71 240h1v1h-1zM74 240h1v1h-1zM75 240h1v1h-1zM66 242h1v1h-1zM71 242h1v1h-1zM92 243h1v1h-1zM63 244h1v1h-1zM59 245h1v1h-1zM68 245h1v1h-1zM67 246h1v1h-1zM69 246h1v1h-1zM75 246h1v1h-1zM58 249h1v1h-1zM112 250h1v1h-1zM64 251h1v1h-1zM68 251h1v1h-1zM91 251h1v1h-1zM57 253h1v1h-1zM64 254h1v1h-1zM58 255h1v1h-1zM67 255h1v1h-1zM96 255h1v1h-1zM53 256h1v1h-1zM61 256h1v1h-1zM62 257h1v1h-1zM62 258h1v1h-1zM65 258h1v1h-1zM76 259h1v1h-1zM74 260h1v1h-1zM96 260h1v1h-1zM63 261h1v1h-1zM98 261h1v1h-1zM64 262h1v1h-1zM61 265h1v1h-1zM62 266h1v1h-1zM76 266h1v1h-1zM90 266h1v1h-1zM62 267h1v1h-1zM74 267h1v1h-1zM110 267h1v1h-1zM115 267h1v1h-1zM118 267h1v1h-1zM94 268h1v1h-1zM53 269h1v1h-1zM61 270h1v1h-1zM76 270h1v1h-1zM60 271h1v1h-1zM121 271h1v1h-1zM50 272h1v1h-1zM89 273h1v1h-1zM96 273h1v1h-1zM59 274h1v1h-1zM77 274h1v1h-1zM59 275h1v1h-1zM80 275h1v1h-1zM105 275h1v1h-1zM59 276h1v1h-1zM92 276h1v1h-1zM95 276h1v1h-1zM99 276h1v1h-1zM112 276h1v1h-1zM78 277h1v1h-1zM82 277h1v1h-1zM97 277h1v1h-1zM114 277h1v1h-1zM117 278h1v1h-1zM83 279h1v1h-1zM87 279h1v1h-1zM90 279h1v1h-1zM114 279h1v1h-1zM57 280h1v1h-1zM111 280h1v1h-1zM95 281h1v1h-1zM120 281h1v1h-1zM54 282h1v1h-1zM89 282h1v1h-1zM105 282h1v1h-1zM54 283h1v1h-1zM104 283h1v1h-1zM93 284h1v1h-1zM97 284h1v1h-1zM50 285h1v1h-1zM110 285h1v1h-1zM51 286h1v1h-1zM90 286h1v1h-1zM91 286h1v1h-1zM101 286h1v1h-1zM48 288h1v1h-1zM94 289h1v1h-1zM96 289h1v1h-1zM97 289h1v1h-1zM101 290h1v1h-1zM48 291h1v1h-1zM101 291h1v1h-1zM108 291h1v1h-1zM111 291h1v1h-1zM121 291h1v1h-1zM109 292h1v1h-1zM119 293h1v1h-1zM118 294h1v1h-1zM117 295h1v1h-1zM118 295h1v1h-1zM120 297h1v1h-1zM111 298h1v1h-1zM121 298h1v1h-1zM110 299h1v1h-1z"/>
<path fill="#9eabf8" d="M73 241h1v1h-1zM73 243h1v1h-1zM73 244h1v1h-1zM69 245h1v1h-1zM73 245h1v1h-1zM68 246h1v1h-1zM71 246h1v1h-1zM69 247h1v1h-1zM71 247h1v1h-1zM72 247h1v1h-1zM69 250h1v1h-1zM71 250h1v1h-1zM73 250h1v1h-1zM69 251h1v1h-1zM71 251h1v1h-1zM72 253h1v1h-1zM66 254h1v1h-1zM70 255h1v1h-1zM71 255h1v1h-1zM68 256h1v1h-1zM70 257h1v1h-1zM71 257h1v1h-1zM72 257h1v1h-1zM73 257h1v1h-1zM66 259h1v1h-1zM67 259h1v1h-1zM72 259h1v1h-1zM70 260h1v1h-1zM73 260h1v1h-1zM64 263h1v1h-1zM67 264h1v1h-1zM64 265h1v1h-1zM65 265h1v1h-1zM66 265h1v1h-1zM71 265h1v1h-1zM67 266h1v1h-1zM69 267h1v1h-1zM65 269h1v1h-1zM66 269h1v1h-1zM62 271h1v1h-1zM64 271h1v1h-1zM65 271h1v1h-1zM67 271h1v1h-1zM68 271h1v1h-1zM63 272h1v1h-1zM66 273h1v1h-1zM67 273h1v1h-1zM62 274h1v1h-1zM64 274h1v1h-1zM65 274h1v1h-1zM74 274h1v1h-1zM60 275h1v1h-1zM61 275h1v1h-1zM74 275h1v1h-1zM75 275h1v1h-1zM63 276h1v1h-1zM65 276h1v1h-1zM66 276h1v1h-1zM62 277h1v1h-1zM63 277h1v1h-1zM65 277h1v1h-1zM74 277h1v1h-1zM62 278h1v1h-1zM63 278h1v1h-1zM65 278h1v1h-1zM75 278h1v1h-1zM62 279h1v1h-1zM64 279h1v1h-1zM75 279h1v1h-1zM76 279h1v1h-1zM78 279h1v1h-1zM82 279h1v1h-1zM77 280h1v1h-1zM58 281h1v1h-1zM61 281h1v1h-1zM75 281h1v1h-1zM80 281h1v1h-1zM83 282h1v1h-1zM85 282h1v1h-1zM57 283h1v1h-1zM59 283h1v1h-1zM85 283h1v1h-1zM55 284h1v1h-1zM56 284h1v1h-1zM57 284h1v1h-1zM81 284h1v1h-1zM84 284h1v1h-1zM87 284h1v1h-1zM56 285h1v1h-1zM57 285h1v1h-1zM54 286h1v1h-1zM56 286h1v1h-1zM84 286h1v1h-1zM92 286h1v1h-1zM52 287h1v1h-1zM54 287h1v1h-1zM55 287h1v1h-1zM83 287h1v1h-1zM84 287h1v1h-1zM85 287h1v1h-1zM89 287h1v1h-1zM84 288h1v1h-1zM85 288h1v1h-1zM89 288h1v1h-1zM51 290h1v1h-1zM52 290h1v1h-1zM53 290h1v1h-1zM90 290h1v1h-1zM49 291h1v1h-1zM52 291h1v1h-1zM85 291h1v1h-1zM88 291h1v1h-1zM90 291h1v1h-1zM91 291h1v1h-1zM94 291h1v1h-1zM50 292h1v1h-1zM51 292h1v1h-1zM98 292h1v1h-1zM99 292h1v1h-1zM95 293h1v1h-1zM104 293h1v1h-1zM110 293h1v1h-1zM117 293h1v1h-1zM95 294h1v1h-1zM96 294h1v1h-1zM98 294h1v1h-1zM100 294h1v1h-1zM106 294h1v1h-1zM108 294h1v1h-1zM110 294h1v1h-1zM48 295h1v1h-1zM49 295h1v1h-1zM95 295h1v1h-1zM97 295h1v1h-1zM99 295h1v1h-1zM100 295h1v1h-1zM106 295h1v1h-1zM110 295h1v1h-1zM114 295h1v1h-1zM48 296h1v1h-1zM95 296h1v1h-1zM96 296h1v1h-1zM105 296h1v1h-1zM107 296h1v1h-1zM109 296h1v1h-1zM94 297h1v1h-1zM97 297h1v1h-1zM106 297h1v1h-1zM111 297h1v1h-1zM90 298h1v1h-1zM92 298h1v1h-1zM96 298h1v1h-1zM97 298h1v1h-1zM104 298h1v1h-1zM106 298h1v1h-1zM107 298h1v1h-1zM109 298h1v1h-1zM85 299h1v1h-1zM86 299h1v1h-1zM93 299h1v1h-1zM95 299h1v1h-1zM103 299h1v1h-1z"/>
<path fill="#8b9af6" d="M72 252h1v1h-1zM73 256h1v1h-1zM71 260h1v1h-1zM69 261h1v1h-1zM73 261h1v1h-1zM69 264h1v1h-1zM70 264h1v1h-1zM73 264h1v1h-1zM69 265h1v1h-1zM68 266h1v1h-1zM69 266h1v1h-1zM73 266h1v1h-1zM69 268h1v1h-1zM71 268h1v1h-1zM71 269h1v1h-1zM65 270h1v1h-1zM73 270h1v1h-1zM72 271h1v1h-1zM69 272h1v1h-1zM72 273h1v1h-1zM69 274h1v1h-1zM65 275h1v1h-1zM68 275h1v1h-1zM69 276h1v1h-1zM70 277h1v1h-1zM66 278h1v1h-1zM74 278h1v1h-1zM61 279h1v1h-1zM67 279h1v1h-1zM69 279h1v1h-1zM74 279h1v1h-1zM64 280h1v1h-1zM66 280h1v1h-1zM67 281h1v1h-1zM76 281h1v1h-1zM59 282h1v1h-1zM63 282h1v1h-1zM66 282h1v1h-1zM75 282h1v1h-1zM78 282h1v1h-1zM62 283h1v1h-1zM63 283h1v1h-1zM76 283h1v1h-1zM77 283h1v1h-1zM61 284h1v1h-1zM62 284h1v1h-1zM63 284h1v1h-1zM80 284h1v1h-1zM82 284h1v1h-1zM60 285h1v1h-1zM61 285h1v1h-1zM80 285h1v1h-1zM59 286h1v1h-1zM60 286h1v1h-1zM56 287h1v1h-1zM80 287h1v1h-1zM81 287h1v1h-1zM59 288h1v1h-1zM81 288h1v1h-1zM57 289h1v1h-1zM82 289h1v1h-1zM55 290h1v1h-1zM81 290h1v1h-1zM87 290h1v1h-1zM54 291h1v1h-1zM83 291h1v1h-1zM54 292h1v1h-1zM84 292h1v1h-1zM86 292h1v1h-1zM90 292h1v1h-1zM91 292h1v1h-1zM53 293h1v1h-1zM87 293h1v1h-1zM90 293h1v1h-1zM51 294h1v1h-1zM88 294h1v1h-1zM91 294h1v1h-1zM52 295h1v1h-1zM87 295h1v1h-1zM88 295h1v1h-1zM90 295h1v1h-1zM50 296h1v1h-1zM86 296h1v1h-1zM88 296h1v1h-1zM89 296h1v1h-1zM90 296h1v1h-1zM87 297h1v1h-1zM49 298h1v1h-1zM84 298h1v1h-1zM99 298h1v1h-1zM77 299h1v1h-1zM81 299h1v1h-1zM83 299h1v1h-1zM90 299h1v1h-1z"/>
<path fill="#788af5" d="M73 262h1v1h-1zM71 264h1v1h-1zM72 265h1v1h-1zM71 267h1v1h-1zM68 272h1v1h-1zM68 274h1v1h-1zM67 276h1v1h-1zM65 279h1v1h-1zM70 279h1v1h-1zM69 280h1v1h-1zM63 281h1v1h-1zM69 281h1v1h-1zM62 282h1v1h-1zM60 283h1v1h-1zM61 283h1v1h-1zM67 283h1v1h-1zM80 283h1v1h-1zM65 284h1v1h-1zM58 285h1v1h-1zM59 285h1v1h-1zM63 285h1v1h-1zM76 285h1v1h-1zM62 286h1v1h-1zM58 287h1v1h-1zM60 288h1v1h-1zM79 288h1v1h-1zM80 290h1v1h-1zM53 292h1v1h-1zM92 293h1v1h-1zM54 294h1v1h-1zM83 294h1v1h-1zM84 294h1v1h-1zM85 295h1v1h-1zM86 295h1v1h-1zM97 296h1v1h-1zM81 297h1v1h-1zM82 297h1v1h-1zM50 298h1v1h-1zM78 298h1v1h-1zM89 298h1v1h-1zM49 299h1v1h-1zM84 299h1v1h-1z"/>
<path fill="#697cf2" d="M73 265h1v1h-1zM72 268h1v1h-1zM73 268h1v1h-1zM72 270h1v1h-1zM72 272h1v1h-1zM70 273h1v1h-1zM70 274h1v1h-1zM71 274h1v1h-1zM68 277h1v1h-1zM69 278h1v1h-1zM67 280h1v1h-1zM64 282h1v1h-1zM74 282h1v1h-1zM76 284h1v1h-1zM62 285h1v1h-1zM78 285h1v1h-1zM79 285h1v1h-1zM80 286h1v1h-1zM56 290h1v1h-1zM82 291h1v1h-1zM85 292h1v1h-1zM86 293h1v1h-1zM88 293h1v1h-1zM89 294h1v1h-1zM91 296h1v1h-1zM49 297h1v1h-1zM50 297h1v1h-1zM88 297h1v1h-1zM48 298h1v1h-1zM82 298h1v1h-1z"/>
<path fill="#5b6ef0" d="M73 272h1v1h-1zM72 274h1v1h-1zM72 275h1v1h-1zM72 276h1v1h-1zM71 277h1v1h-1zM72 277h1v1h-1zM70 278h1v1h-1zM67 282h1v1h-1zM64 284h1v1h-1zM74 284h1v1h-1zM75 284h1v1h-1zM78 286h1v1h-1zM79 286h1v1h-1zM79 287h1v1h-1zM58 289h1v1h-1zM80 289h1v1h-1zM81 292h1v1h-1zM83 293h1v1h-1zM53 294h1v1h-1zM85 294h1v1h-1zM86 294h1v1h-1zM52 296h1v1h-1zM87 296h1v1h-1zM51 297h1v1h-1zM83 297h1v1h-1zM80 298h1v1h-1zM81 298h1v1h-1z"/>
<path fill="#4c60ee" d="M73 275h1v1h-1zM73 277h1v1h-1zM72 278h1v1h-1zM72 279h1v1h-1zM71 280h1v1h-1zM70 281h1v1h-1zM68 283h1v1h-1zM66 284h1v1h-1zM77 286h1v1h-1zM78 287h1v1h-1zM61 288h1v1h-1zM59 289h1v1h-1zM79 289h1v1h-1zM58 290h1v1h-1zM79 290h1v1h-1zM55 293h1v1h-1zM81 293h1v1h-1zM82 293h1v1h-1zM82 294h1v1h-1zM54 295h1v1h-1zM83 295h1v1h-1zM53 296h1v1h-1zM82 296h1v1h-1zM83 296h1v1h-1zM52 297h1v1h-1zM51 298h1v1h-1z"/>
<path fill="#3e52ec" d="M73 278h1v1h-1zM73 279h1v1h-1zM72 281h1v1h-1zM70 282h1v1h-1zM71 282h1v1h-1zM70 283h1v1h-1zM67 284h1v1h-1zM74 285h1v1h-1zM64 286h1v1h-1zM65 286h1v1h-1zM76 286h1v1h-1zM63 287h1v1h-1zM77 287h1v1h-1zM62 288h1v1h-1zM78 288h1v1h-1zM60 289h1v1h-1zM78 289h1v1h-1zM59 290h1v1h-1zM79 291h1v1h-1zM57 292h1v1h-1zM79 292h1v1h-1zM80 293h1v1h-1zM81 294h1v1h-1zM81 296h1v1h-1zM78 297h1v1h-1zM79 297h1v1h-1zM76 298h1v1h-1z"/>
<path fill="#3453eb" d="M73 281h1v1h-1zM72 282h1v1h-1zM71 283h1v1h-1zM69 284h1v1h-1zM70 284h1v1h-1zM68 285h1v1h-1zM66 286h1v1h-1zM74 286h1v1h-1zM64 287h1v1h-1zM77 288h1v1h-1zM61 289h1v1h-1zM60 290h1v1h-1zM59 291h1v1h-1zM58 292h1v1h-1zM78 292h1v1h-1zM57 293h1v1h-1zM79 293h1v1h-1zM79 294h1v1h-1zM79 295h1v1h-1zM80 295h1v1h-1zM79 296h1v1h-1zM54 297h1v1h-1zM77 297h1v1h-1zM53 298h1v1h-1zM52 299h1v1h-1z"/>
<path fill="#2e63ec" d="M73 283h1v1h-1zM69 285h1v1h-1zM67 286h1v1h-1zM65 287h1v1h-1zM75 287h1v1h-1zM76 288h1v1h-1zM62 289h1v1h-1zM77 289h1v1h-1zM77 290h1v1h-1zM77 291h1v1h-1zM78 293h1v1h-1zM56 295h1v1h-1zM55 296h1v1h-1zM77 296h1v1h-1zM76 297h1v1h-1zM54 298h1v1h-1zM75 298h1v1h-1z"/>
<path fill="#2974ed" d="M70 285h1v1h-1zM71 285h1v1h-1zM68 286h1v1h-1zM66 287h1v1h-1zM74 287h1v1h-1zM64 288h1v1h-1zM61 290h1v1h-1zM60 291h1v1h-1zM59 292h1v1h-1zM77 292h1v1h-1zM58 293h1v1h-1zM77 293h1v1h-1zM57 294h1v1h-1zM77 294h1v1h-1zM77 295h1v1h-1zM56 296h1v1h-1zM76 296h1v1h-1zM55 297h1v1h-1zM55 298h1v1h-1zM54 299h1v1h-1z"/>
<path fill="#2385ee" d="M73 284h1v1h-1zM72 285h1v1h-1zM75 288h1v1h-1zM63 289h1v1h-1zM76 291h1v1h-1zM57 295h1v1h-1zM55 299h1v1h-1z"/>
<path fill="#1e96f0" d="M73 285h1v1h-1zM71 286h1v1h-1zM68 287h1v1h-1zM66 288h1v1h-1zM74 288h1v1h-1zM64 289h1v1h-1zM75 289h1v1h-1zM60 292h1v1h-1zM59 293h1v1h-1zM58 294h1v1h-1zM76 294h1v1h-1zM57 296h1v1h-1zM75 296h1v1h-1zM74 297h1v1h-1zM56 298h1v1h-1zM56 299h1v1h-1z"/>
<path fill="#20a6dc" d="M72 286h1v1h-1zM69 287h1v1h-1zM63 290h1v1h-1zM75 290h1v1h-1zM58 295h1v1h-1zM57 297h1v1h-1zM57 298h1v1h-1zM57 299h1v1h-1z"/>
<path fill="#23b7c9" d="M73 286h1v1h-1zM70 287h1v1h-1zM67 288h1v1h-1zM65 289h1v1h-1zM74 289h1v1h-1zM62 291h1v1h-1zM75 291h1v1h-1zM61 292h1v1h-1zM75 292h1v1h-1zM60 293h1v1h-1zM75 293h1v1h-1zM59 294h1v1h-1zM75 294h1v1h-1zM75 295h1v1h-1zM58 296h1v1h-1zM74 296h1v1h-1z"/>
<path fill="#26c8b5" d="M71 287h1v1h-1zM68 288h1v1h-1zM66 289h1v1h-1zM64 290h1v1h-1zM59 295h1v1h-1zM58 297h1v1h-1zM58 298h1v1h-1zM58 299h1v1h-1zM70 299h1v1h-1zM71 299h1v1h-1z"/>
<path fill="#2ad39d" d="M72 287h1v1h-1zM73 287h1v1h-1zM69 288h1v1h-1zM74 290h1v1h-1zM63 291h1v1h-1zM60 294h1v1h-1zM74 295h1v1h-1zM59 296h1v1h-1zM59 298h1v1h-1zM70 298h1v1h-1zM71 298h1v1h-1zM72 298h1v1h-1zM59 299h1v1h-1zM68 299h1v1h-1zM69 299h1v1h-1zM72 299h1v1h-1z"/>
<path fill="#2fd57f" d="M70 288h1v1h-1zM67 289h1v1h-1zM65 290h1v1h-1zM74 291h1v1h-1zM62 292h1v1h-1zM74 292h1v1h-1zM61 293h1v1h-1zM74 293h1v1h-1zM74 294h1v1h-1zM59 297h1v1h-1zM71 297h1v1h-1zM72 297h1v1h-1zM73 297h1v1h-1zM69 298h1v1h-1zM73 298h1v1h-1zM60 299h1v1h-1zM61 299h1v1h-1zM66 299h1v1h-1zM67 299h1v1h-1zM73 299h1v1h-1z"/>
<path fill="#35d860" d="M71 288h1v1h-1zM72 288h1v1h-1zM68 289h1v1h-1zM64 291h1v1h-1zM60 295h1v1h-1zM60 296h1v1h-1zM73 296h1v1h-1zM60 297h1v1h-1zM70 297h1v1h-1zM60 298h1v1h-1zM68 298h1v1h-1zM62 299h1v1h-1zM63 299h1v1h-1zM64 299h1v1h-1zM65 299h1v1h-1z"/>
<path fill="#3adb42" d="M73 288h1v1h-1zM66 290h1v1h-1zM63 292h1v1h-1zM62 293h1v1h-1zM61 294h1v1h-1zM73 295h1v1h-1zM71 296h1v1h-1zM72 296h1v1h-1zM69 297h1v1h-1zM61 298h1v1h-1zM62 298h1v1h-1zM66 298h1v1h-1zM67 298h1v1h-1z"/>
<path fill="#5bde35" d="M69 289h1v1h-1zM70 289h1v1h-1zM71 289h1v1h-1zM61 295h1v1h-1zM72 295h1v1h-1zM61 296h1v1h-1zM70 296h1v1h-1zM61 297h1v1h-1zM68 297h1v1h-1zM63 298h1v1h-1zM64 298h1v1h-1zM65 298h1v1h-1z"/>
<path fill="#81e12d" d="M72 289h1v1h-1zM73 289h1v1h-1zM67 290h1v1h-1zM65 291h1v1h-1zM62 294h1v1h-1zM73 294h1v1h-1zM71 295h1v1h-1zM62 297h1v1h-1zM67 297h1v1h-1z"/>
<path fill="#a8e324" d="M73 290h1v1h-1zM64 292h1v1h-1zM63 293h1v1h-1zM73 293h1v1h-1zM72 294h1v1h-1zM62 295h1v1h-1zM62 296h1v1h-1zM69 296h1v1h-1zM63 297h1v1h-1zM66 297h1v1h-1z"/>
<path fill="#cae11d" d="M68 290h1v1h-1zM69 290h1v1h-1zM70 290h1v1h-1zM71 290h1v1h-1zM72 290h1v1h-1zM73 291h1v1h-1zM73 292h1v1h-1zM71 294h1v1h-1zM70 295h1v1h-1zM68 296h1v1h-1zM64 297h1v1h-1zM65 297h1v1h-1z"/>
<path fill="#d8cb1a" d="M66 291h1v1h-1zM72 291h1v1h-1zM72 292h1v1h-1zM72 293h1v1h-1zM63 294h1v1h-1zM63 295h1v1h-1zM63 296h1v1h-1z"/>
<path fill="#e6b517" d="M71 291h1v1h-1zM64 293h1v1h-1zM71 293h1v1h-1zM69 295h1v1h-1zM64 296h1v1h-1zM67 296h1v1h-1z"/>
<path fill="#f49e15" d="M67 291h1v1h-1zM69 291h1v1h-1zM70 291h1v1h-1zM65 292h1v1h-1zM71 292h1v1h-1zM64 294h1v1h-1zM70 294h1v1h-1zM64 295h1v1h-1zM65 296h1v1h-1zM66 296h1v1h-1z"/>
<path fill="#f78114" d="M68 291h1v1h-1zM70 292h1v1h-1zM70 293h1v1h-1zM68 295h1v1h-1z"/>
<path fill="#f36014" d="M69 294h1v1h-1zM65 295h1v1h-1z"/>
<path fill="#ef3f14" d="M66 292h1v1h-1zM69 292h1v1h-1zM65 293h1v1h-1zM66 295h1v1h-1zM67 295h1v1h-1z"/>
<path fill="#eb1e14" d="M67 292h1v1h-1zM68 292h1v1h-1zM66 293h1v1h-1zM67 293h1v1h-1zM68 293h1v1h-1zM69 293h1v1h-1zM65 294h1v1h-1zM66 294h1v1h-1zM67 294h1v1h-1zM68 294h1v1h-1z"/>
<rect x="74.50" y="258.60" width="39.70" height="39.90" fill="none" stroke="#6a6a6a" stroke-width="0.90"/>
<rect x="47.70" y="227.50" width="74.80" height="73.20" fill="none" stroke="#000" stroke-width="1.20"/>
<text x="92.90" y="265.70" font-size="7.20" textLength="17.60" lengthAdjust="spacingAndGlyphs" fill="#222" stroke="#222" stroke-width="0.22">20.6%</text>
<text x="75.10" y="223.80" font-size="10.40" textLength="21.80" lengthAdjust="spacingAndGlyphs" fill="#111" stroke="#111" stroke-width="0.22">CTRL</text>
<line x1="44.30" y1="300.50" x2="47.70" y2="300.50" stroke="#000" stroke-width="1.00"/>
<text x="39.41" y="303.10" font-size="7.90" fill="#111" stroke="#111" stroke-width="0.22">0</text>
<line x1="45.30" y1="297.68" x2="47.70" y2="297.68" stroke="#000" stroke-width="0.80"/>
<line x1="45.30" y1="294.86" x2="47.70" y2="294.86" stroke="#000" stroke-width="0.80"/>
<line x1="45.30" y1="292.04" x2="47.70" y2="292.04" stroke="#000" stroke-width="0.80"/>
<line x1="45.30" y1="289.22" x2="47.70" y2="289.22" stroke="#000" stroke-width="0.80"/>
<line x1="44.30" y1="286.40" x2="47.70" y2="286.40" stroke="#000" stroke-width="1.00"/>
<text x="29.74" y="289.00" font-size="7.90" fill="#111" stroke="#111" stroke-width="0.22">50K</text>
<line x1="45.30" y1="283.58" x2="47.70" y2="283.58" stroke="#000" stroke-width="0.80"/>
<line x1="45.30" y1="280.76" x2="47.70" y2="280.76" stroke="#000" stroke-width="0.80"/>
<line x1="45.30" y1="277.94" x2="47.70" y2="277.94" stroke="#000" stroke-width="0.80"/>
<line x1="45.30" y1="275.12" x2="47.70" y2="275.12" stroke="#000" stroke-width="0.80"/>
<line x1="44.30" y1="272.30" x2="47.70" y2="272.30" stroke="#000" stroke-width="1.00"/>
<text x="25.35" y="274.90" font-size="7.90" fill="#111" stroke="#111" stroke-width="0.22">100K</text>
<line x1="45.30" y1="269.48" x2="47.70" y2="269.48" stroke="#000" stroke-width="0.80"/>
<line x1="45.30" y1="266.66" x2="47.70" y2="266.66" stroke="#000" stroke-width="0.80"/>
<line x1="45.30" y1="263.84" x2="47.70" y2="263.84" stroke="#000" stroke-width="0.80"/>
<line x1="45.30" y1="261.02" x2="47.70" y2="261.02" stroke="#000" stroke-width="0.80"/>
<line x1="44.30" y1="258.20" x2="47.70" y2="258.20" stroke="#000" stroke-width="1.00"/>
<text x="25.35" y="260.80" font-size="7.90" fill="#111" stroke="#111" stroke-width="0.22">150K</text>
<line x1="45.30" y1="255.38" x2="47.70" y2="255.38" stroke="#000" stroke-width="0.80"/>
<line x1="45.30" y1="252.56" x2="47.70" y2="252.56" stroke="#000" stroke-width="0.80"/>
<line x1="45.30" y1="249.74" x2="47.70" y2="249.74" stroke="#000" stroke-width="0.80"/>
<line x1="45.30" y1="246.92" x2="47.70" y2="246.92" stroke="#000" stroke-width="0.80"/>
<line x1="44.30" y1="244.10" x2="47.70" y2="244.10" stroke="#000" stroke-width="1.00"/>
<text x="25.35" y="246.70" font-size="7.90" fill="#111" stroke="#111" stroke-width="0.22">200K</text>
<line x1="45.30" y1="241.28" x2="47.70" y2="241.28" stroke="#000" stroke-width="0.80"/>
<line x1="45.30" y1="238.46" x2="47.70" y2="238.46" stroke="#000" stroke-width="0.80"/>
<line x1="45.30" y1="235.64" x2="47.70" y2="235.64" stroke="#000" stroke-width="0.80"/>
<line x1="45.30" y1="232.82" x2="47.70" y2="232.82" stroke="#000" stroke-width="0.80"/>
<line x1="44.30" y1="230.00" x2="47.70" y2="230.00" stroke="#000" stroke-width="1.00"/>
<text x="25.35" y="232.60" font-size="7.90" fill="#111" stroke="#111" stroke-width="0.22">250K</text>
<line x1="62.50" y1="300.70" x2="62.50" y2="303.70" stroke="#000" stroke-width="1.00"/>
<text x="56.68" y="314.00" font-size="8.40" fill="#1a1a1a">10</text>
<text x="65.82" y="310.64" font-size="5.21" fill="#1a1a1a">2</text>
<line x1="80.00" y1="300.70" x2="80.00" y2="303.70" stroke="#000" stroke-width="1.00"/>
<text x="74.18" y="314.00" font-size="8.40" fill="#1a1a1a">10</text>
<text x="83.32" y="310.64" font-size="5.21" fill="#1a1a1a">3</text>
<line x1="97.50" y1="300.70" x2="97.50" y2="303.70" stroke="#000" stroke-width="1.00"/>
<text x="91.68" y="314.00" font-size="8.40" fill="#1a1a1a">10</text>
<text x="100.82" y="310.64" font-size="5.21" fill="#1a1a1a">4</text>
<line x1="115.50" y1="300.70" x2="115.50" y2="303.70" stroke="#000" stroke-width="1.00"/>
<text x="109.68" y="314.00" font-size="8.40" fill="#1a1a1a">10</text>
<text x="118.82" y="310.64" font-size="5.21" fill="#1a1a1a">5</text>
<line x1="50.27" y1="300.70" x2="50.27" y2="302.50" stroke="#000" stroke-width="0.70"/>
<line x1="53.35" y1="300.70" x2="53.35" y2="302.50" stroke="#000" stroke-width="0.70"/>
<line x1="55.54" y1="300.70" x2="55.54" y2="302.50" stroke="#000" stroke-width="0.70"/>
<line x1="57.23" y1="300.70" x2="57.23" y2="302.50" stroke="#000" stroke-width="0.70"/>
<line x1="58.62" y1="300.70" x2="58.62" y2="302.50" stroke="#000" stroke-width="0.70"/>
<line x1="59.79" y1="300.70" x2="59.79" y2="302.50" stroke="#000" stroke-width="0.70"/>
<line x1="60.80" y1="300.70" x2="60.80" y2="302.50" stroke="#000" stroke-width="0.70"/>
<line x1="61.70" y1="300.70" x2="61.70" y2="302.50" stroke="#000" stroke-width="0.70"/>
<line x1="67.77" y1="300.70" x2="67.77" y2="302.50" stroke="#000" stroke-width="0.70"/>
<line x1="70.85" y1="300.70" x2="70.85" y2="302.50" stroke="#000" stroke-width="0.70"/>
<line x1="73.04" y1="300.70" x2="73.04" y2="302.50" stroke="#000" stroke-width="0.70"/>
<line x1="74.73" y1="300.70" x2="74.73" y2="302.50" stroke="#000" stroke-width="0.70"/>
<line x1="76.12" y1="300.70" x2="76.12" y2="302.50" stroke="#000" stroke-width="0.70"/>
<line x1="77.29" y1="300.70" x2="77.29" y2="302.50" stroke="#000" stroke-width="0.70"/>
<line x1="78.30" y1="300.70" x2="78.30" y2="302.50" stroke="#000" stroke-width="0.70"/>
<line x1="79.20" y1="300.70" x2="79.20" y2="302.50" stroke="#000" stroke-width="0.70"/>
<line x1="85.27" y1="300.70" x2="85.27" y2="302.50" stroke="#000" stroke-width="0.70"/>
<line x1="88.35" y1="300.70" x2="88.35" y2="302.50" stroke="#000" stroke-width="0.70"/>
<line x1="90.54" y1="300.70" x2="90.54" y2="302.50" stroke="#000" stroke-width="0.70"/>
<line x1="92.23" y1="300.70" x2="92.23" y2="302.50" stroke="#000" stroke-width="0.70"/>
<line x1="93.62" y1="300.70" x2="93.62" y2="302.50" stroke="#000" stroke-width="0.70"/>
<line x1="94.79" y1="300.70" x2="94.79" y2="302.50" stroke="#000" stroke-width="0.70"/>
<line x1="95.80" y1="300.70" x2="95.80" y2="302.50" stroke="#000" stroke-width="0.70"/>
<line x1="96.70" y1="300.70" x2="96.70" y2="302.50" stroke="#000" stroke-width="0.70"/>
<line x1="102.77" y1="300.70" x2="102.77" y2="302.50" stroke="#000" stroke-width="0.70"/>
<line x1="105.85" y1="300.70" x2="105.85" y2="302.50" stroke="#000" stroke-width="0.70"/>
<line x1="108.04" y1="300.70" x2="108.04" y2="302.50" stroke="#000" stroke-width="0.70"/>
<line x1="109.73" y1="300.70" x2="109.73" y2="302.50" stroke="#000" stroke-width="0.70"/>
<line x1="111.12" y1="300.70" x2="111.12" y2="302.50" stroke="#000" stroke-width="0.70"/>
<line x1="112.29" y1="300.70" x2="112.29" y2="302.50" stroke="#000" stroke-width="0.70"/>
<line x1="113.30" y1="300.70" x2="113.30" y2="302.50" stroke="#000" stroke-width="0.70"/>
<line x1="114.20" y1="300.70" x2="114.20" y2="302.50" stroke="#000" stroke-width="0.70"/>
<line x1="120.27" y1="300.70" x2="120.27" y2="302.50" stroke="#000" stroke-width="0.70"/>
<path fill="#b2bcfa" d="M166 228h1v1h-1zM181 228h1v1h-1zM182 228h1v1h-1zM157 229h1v1h-1zM174 229h1v1h-1zM179 230h1v1h-1zM180 230h1v1h-1zM180 231h1v1h-1zM226 231h1v1h-1zM177 232h1v1h-1zM199 232h1v1h-1zM211 232h1v1h-1zM177 233h1v1h-1zM224 233h1v1h-1zM159 234h1v1h-1zM179 234h1v1h-1zM180 234h1v1h-1zM184 235h1v1h-1zM188 235h1v1h-1zM172 236h1v1h-1zM179 236h1v1h-1zM177 237h1v1h-1zM180 238h1v1h-1zM192 238h1v1h-1zM206 238h1v1h-1zM174 240h1v1h-1zM177 240h1v1h-1zM189 240h1v1h-1zM193 240h1v1h-1zM203 240h1v1h-1zM184 241h1v1h-1zM163 242h1v1h-1zM168 243h1v1h-1zM176 243h1v1h-1zM157 244h1v1h-1zM175 244h1v1h-1zM179 244h1v1h-1zM170 245h1v1h-1zM185 246h1v1h-1zM194 246h1v1h-1zM175 247h1v1h-1zM218 247h1v1h-1zM166 248h1v1h-1zM178 248h1v1h-1zM175 249h1v1h-1zM185 249h1v1h-1zM197 249h1v1h-1zM197 250h1v1h-1zM183 252h1v1h-1zM224 252h1v1h-1zM174 253h1v1h-1zM162 254h1v1h-1zM191 254h1v1h-1zM198 254h1v1h-1zM224 254h1v1h-1zM171 255h1v1h-1zM194 257h1v1h-1zM211 257h1v1h-1zM216 257h1v1h-1zM168 258h1v1h-1zM174 258h1v1h-1zM170 259h1v1h-1zM171 259h1v1h-1zM213 259h1v1h-1zM171 260h1v1h-1zM172 260h1v1h-1zM213 260h1v1h-1zM189 261h1v1h-1zM212 261h1v1h-1zM224 261h1v1h-1zM172 263h1v1h-1zM188 263h1v1h-1zM226 263h1v1h-1zM170 264h1v1h-1zM198 264h1v1h-1zM216 264h1v1h-1zM165 265h1v1h-1zM183 268h1v1h-1zM168 269h1v1h-1zM183 269h1v1h-1zM168 270h1v1h-1zM170 271h1v1h-1zM186 271h1v1h-1zM190 271h1v1h-1zM191 271h1v1h-1zM202 272h1v1h-1zM168 273h1v1h-1zM189 274h1v1h-1zM167 276h1v1h-1zM184 276h1v1h-1zM185 276h1v1h-1zM190 276h1v1h-1zM214 276h1v1h-1zM227 276h1v1h-1zM166 277h1v1h-1zM187 277h1v1h-1zM188 277h1v1h-1zM194 277h1v1h-1zM166 278h1v1h-1zM186 278h1v1h-1zM188 278h1v1h-1zM189 278h1v1h-1zM195 278h1v1h-1zM204 278h1v1h-1zM199 279h1v1h-1zM197 280h1v1h-1zM211 280h1v1h-1zM201 281h1v1h-1zM203 281h1v1h-1zM221 281h1v1h-1zM222 281h1v1h-1zM161 282h1v1h-1zM202 282h1v1h-1zM201 283h1v1h-1zM210 283h1v1h-1zM163 284h1v1h-1zM202 284h1v1h-1zM160 285h1v1h-1zM206 285h1v1h-1zM216 285h1v1h-1zM214 286h1v1h-1zM215 286h1v1h-1zM209 287h1v1h-1zM218 287h1v1h-1zM225 287h1v1h-1z"/>
<path fill="#9eabf8" d="M182 232h1v1h-1zM182 234h1v1h-1zM181 239h1v1h-1zM180 242h1v1h-1zM182 242h1v1h-1zM180 244h1v1h-1zM182 244h1v1h-1zM182 245h1v1h-1zM180 247h1v1h-1zM179 248h1v1h-1zM178 249h1v1h-1zM180 251h1v1h-1zM178 252h1v1h-1zM179 253h1v1h-1zM181 253h1v1h-1zM182 253h1v1h-1zM179 254h1v1h-1zM182 254h1v1h-1zM176 255h1v1h-1zM177 255h1v1h-1zM177 256h1v1h-1zM175 258h1v1h-1zM176 258h1v1h-1zM176 259h1v1h-1zM177 259h1v1h-1zM179 259h1v1h-1zM180 259h1v1h-1zM175 260h1v1h-1zM176 260h1v1h-1zM179 260h1v1h-1zM178 262h1v1h-1zM179 262h1v1h-1zM174 263h1v1h-1zM180 263h1v1h-1zM180 264h1v1h-1zM172 265h1v1h-1zM175 265h1v1h-1zM176 265h1v1h-1zM178 265h1v1h-1zM172 266h1v1h-1zM174 266h1v1h-1zM177 266h1v1h-1zM174 267h1v1h-1zM177 268h1v1h-1zM179 268h1v1h-1zM172 269h1v1h-1zM174 269h1v1h-1zM177 269h1v1h-1zM175 270h1v1h-1zM176 270h1v1h-1zM174 271h1v1h-1zM171 272h1v1h-1zM172 272h1v1h-1zM176 272h1v1h-1zM177 272h1v1h-1zM173 273h1v1h-1zM177 273h1v1h-1zM167 274h1v1h-1zM171 274h1v1h-1zM169 276h1v1h-1zM170 277h1v1h-1zM173 277h1v1h-1zM172 278h1v1h-1zM184 278h1v1h-1zM186 279h1v1h-1zM167 280h1v1h-1zM170 280h1v1h-1zM185 280h1v1h-1zM166 281h1v1h-1zM167 281h1v1h-1zM170 281h1v1h-1zM171 281h1v1h-1zM189 281h1v1h-1zM192 281h1v1h-1zM193 281h1v1h-1zM166 282h1v1h-1zM168 282h1v1h-1zM169 282h1v1h-1zM170 282h1v1h-1zM171 282h1v1h-1zM183 282h1v1h-1zM188 282h1v1h-1zM185 283h1v1h-1zM188 283h1v1h-1zM190 283h1v1h-1zM193 283h1v1h-1zM194 283h1v1h-1zM195 283h1v1h-1zM165 284h1v1h-1zM168 284h1v1h-1zM187 284h1v1h-1zM191 284h1v1h-1zM163 285h1v1h-1zM165 285h1v1h-1zM167 285h1v1h-1zM168 285h1v1h-1zM193 285h1v1h-1zM193 286h1v1h-1zM199 286h1v1h-1zM200 286h1v1h-1zM202 286h1v1h-1zM164 287h1v1h-1zM195 287h1v1h-1zM197 287h1v1h-1zM204 287h1v1h-1zM207 287h1v1h-1zM161 288h1v1h-1zM163 288h1v1h-1zM166 288h1v1h-1zM208 288h1v1h-1zM210 288h1v1h-1zM213 288h1v1h-1zM214 288h1v1h-1zM222 288h1v1h-1zM164 289h1v1h-1zM165 289h1v1h-1zM203 289h1v1h-1zM207 289h1v1h-1zM209 289h1v1h-1zM210 289h1v1h-1zM213 289h1v1h-1zM219 289h1v1h-1zM220 289h1v1h-1zM229 289h1v1h-1zM161 290h1v1h-1zM222 290h1v1h-1zM226 290h1v1h-1zM229 290h1v1h-1zM162 291h1v1h-1zM228 291h1v1h-1zM160 292h1v1h-1zM158 293h1v1h-1zM159 293h1v1h-1zM161 293h1v1h-1zM158 294h1v1h-1zM160 294h1v1h-1zM157 295h1v1h-1zM157 296h1v1h-1z"/>
<path fill="#8b9af6" d="M180 256h1v1h-1zM178 259h1v1h-1zM180 262h1v1h-1zM182 262h1v1h-1zM177 265h1v1h-1zM181 265h1v1h-1zM182 265h1v1h-1zM182 266h1v1h-1zM175 267h1v1h-1zM180 268h1v1h-1zM181 268h1v1h-1zM174 270h1v1h-1zM181 270h1v1h-1zM176 271h1v1h-1zM174 272h1v1h-1zM178 272h1v1h-1zM181 272h1v1h-1zM180 273h1v1h-1zM174 274h1v1h-1zM177 274h1v1h-1zM173 275h1v1h-1zM181 275h1v1h-1zM178 276h1v1h-1zM179 276h1v1h-1zM180 277h1v1h-1zM176 278h1v1h-1zM178 278h1v1h-1zM177 279h1v1h-1zM173 280h1v1h-1zM175 280h1v1h-1zM173 281h1v1h-1zM176 281h1v1h-1zM177 281h1v1h-1zM172 282h1v1h-1zM176 282h1v1h-1zM171 283h1v1h-1zM174 283h1v1h-1zM192 283h1v1h-1zM170 284h1v1h-1zM173 284h1v1h-1zM174 284h1v1h-1zM194 284h1v1h-1zM184 285h1v1h-1zM188 285h1v1h-1zM196 285h1v1h-1zM165 286h1v1h-1zM169 286h1v1h-1zM171 286h1v1h-1zM188 286h1v1h-1zM190 286h1v1h-1zM194 286h1v1h-1zM193 287h1v1h-1zM195 288h1v1h-1zM202 288h1v1h-1zM204 288h1v1h-1zM166 289h1v1h-1zM168 289h1v1h-1zM197 289h1v1h-1zM198 289h1v1h-1zM199 289h1v1h-1zM200 289h1v1h-1zM212 289h1v1h-1zM221 289h1v1h-1zM166 290h1v1h-1zM200 290h1v1h-1zM203 290h1v1h-1zM204 290h1v1h-1zM205 290h1v1h-1zM207 290h1v1h-1zM209 290h1v1h-1zM211 290h1v1h-1zM223 290h1v1h-1zM225 290h1v1h-1zM209 291h1v1h-1zM210 291h1v1h-1zM211 291h1v1h-1zM217 291h1v1h-1zM222 291h1v1h-1zM164 292h1v1h-1zM222 292h1v1h-1zM224 292h1v1h-1zM160 293h1v1h-1zM223 293h1v1h-1zM224 293h1v1h-1zM228 293h1v1h-1zM159 294h1v1h-1zM226 294h1v1h-1zM161 295h1v1h-1zM228 295h1v1h-1zM229 295h1v1h-1zM161 296h1v1h-1zM227 296h1v1h-1zM228 296h1v1h-1zM229 296h1v1h-1zM157 297h1v1h-1zM224 297h1v1h-1zM157 298h1v1h-1zM158 298h1v1h-1zM220 298h1v1h-1zM227 298h1v1h-1zM211 299h1v1h-1zM214 299h1v1h-1zM215 299h1v1h-1zM218 299h1v1h-1zM220 299h1v1h-1zM223 299h1v1h-1zM224 299h1v1h-1zM225 299h1v1h-1zM226 299h1v1h-1z"/>
<path fill="#788af5" d="M182 256h1v1h-1zM181 260h1v1h-1zM181 263h1v1h-1zM182 263h1v1h-1zM178 269h1v1h-1zM179 269h1v1h-1zM179 272h1v1h-1zM178 274h1v1h-1zM182 274h1v1h-1zM176 276h1v1h-1zM180 278h1v1h-1zM173 279h1v1h-1zM179 279h1v1h-1zM179 280h1v1h-1zM172 281h1v1h-1zM176 283h1v1h-1zM184 283h1v1h-1zM186 284h1v1h-1zM190 285h1v1h-1zM192 286h1v1h-1zM168 287h1v1h-1zM189 287h1v1h-1zM165 288h1v1h-1zM196 288h1v1h-1zM170 289h1v1h-1zM202 289h1v1h-1zM168 290h1v1h-1zM196 290h1v1h-1zM212 290h1v1h-1zM213 290h1v1h-1zM215 290h1v1h-1zM217 290h1v1h-1zM219 290h1v1h-1zM164 291h1v1h-1zM205 291h1v1h-1zM219 291h1v1h-1zM220 291h1v1h-1zM223 291h1v1h-1zM225 291h1v1h-1zM211 292h1v1h-1zM212 292h1v1h-1zM162 293h1v1h-1zM165 293h1v1h-1zM221 293h1v1h-1zM220 294h1v1h-1zM224 294h1v1h-1zM159 296h1v1h-1zM161 297h1v1h-1zM220 297h1v1h-1zM223 297h1v1h-1zM160 298h1v1h-1zM217 298h1v1h-1zM158 299h1v1h-1zM222 299h1v1h-1zM227 299h1v1h-1zM229 299h1v1h-1z"/>
<path fill="#697cf2" d="M181 267h1v1h-1zM182 268h1v1h-1zM181 269h1v1h-1zM182 269h1v1h-1zM181 271h1v1h-1zM180 274h1v1h-1zM178 275h1v1h-1zM179 275h1v1h-1zM180 275h1v1h-1zM175 279h1v1h-1zM176 280h1v1h-1zM174 282h1v1h-1zM173 283h1v1h-1zM172 284h1v1h-1zM183 284h1v1h-1zM170 285h1v1h-1zM172 285h1v1h-1zM187 285h1v1h-1zM189 286h1v1h-1zM169 287h1v1h-1zM192 287h1v1h-1zM168 288h1v1h-1zM196 289h1v1h-1zM212 291h1v1h-1zM216 291h1v1h-1zM221 292h1v1h-1zM223 292h1v1h-1zM225 292h1v1h-1zM226 292h1v1h-1zM227 292h1v1h-1zM226 293h1v1h-1zM227 293h1v1h-1zM162 294h1v1h-1zM160 296h1v1h-1zM228 297h1v1h-1zM229 297h1v1h-1zM222 298h1v1h-1zM226 298h1v1h-1zM228 298h1v1h-1zM221 299h1v1h-1z"/>
<path fill="#5b6ef0" d="M182 270h1v1h-1zM180 276h1v1h-1zM181 276h1v1h-1zM179 278h1v1h-1zM178 279h1v1h-1zM177 280h1v1h-1zM178 281h1v1h-1zM175 282h1v1h-1zM175 283h1v1h-1zM175 284h1v1h-1zM174 285h1v1h-1zM172 286h1v1h-1zM186 286h1v1h-1zM187 286h1v1h-1zM171 287h1v1h-1zM190 287h1v1h-1zM169 288h1v1h-1zM191 288h1v1h-1zM192 288h1v1h-1zM169 289h1v1h-1zM193 289h1v1h-1zM194 289h1v1h-1zM197 290h1v1h-1zM198 290h1v1h-1zM166 291h1v1h-1zM206 291h1v1h-1zM207 291h1v1h-1zM208 291h1v1h-1zM165 292h1v1h-1zM166 292h1v1h-1zM214 292h1v1h-1zM222 293h1v1h-1zM225 294h1v1h-1zM225 295h1v1h-1zM226 295h1v1h-1zM162 296h1v1h-1zM225 296h1v1h-1zM221 297h1v1h-1zM225 297h1v1h-1zM159 298h1v1h-1zM215 298h1v1h-1zM216 298h1v1h-1zM219 298h1v1h-1zM221 298h1v1h-1zM157 299h1v1h-1zM208 299h1v1h-1zM209 299h1v1h-1z"/>
<path fill="#4c60ee" d="M182 275h1v1h-1zM182 276h1v1h-1zM181 278h1v1h-1zM180 280h1v1h-1zM180 281h1v1h-1zM176 284h1v1h-1zM177 284h1v1h-1zM173 286h1v1h-1zM174 286h1v1h-1zM188 287h1v1h-1zM190 288h1v1h-1zM192 289h1v1h-1zM195 290h1v1h-1zM168 291h1v1h-1zM202 291h1v1h-1zM167 292h1v1h-1zM208 292h1v1h-1zM209 292h1v1h-1zM210 292h1v1h-1zM166 293h1v1h-1zM213 293h1v1h-1zM214 293h1v1h-1zM215 293h1v1h-1zM216 293h1v1h-1zM217 293h1v1h-1zM165 294h1v1h-1zM217 294h1v1h-1zM218 294h1v1h-1zM219 294h1v1h-1zM221 294h1v1h-1zM164 295h1v1h-1zM220 295h1v1h-1zM222 295h1v1h-1zM223 295h1v1h-1zM224 295h1v1h-1zM163 296h1v1h-1zM219 296h1v1h-1zM221 296h1v1h-1zM222 296h1v1h-1zM223 296h1v1h-1zM162 297h1v1h-1zM215 297h1v1h-1zM216 297h1v1h-1zM217 297h1v1h-1zM218 297h1v1h-1zM161 298h1v1h-1zM211 298h1v1h-1zM212 298h1v1h-1zM213 298h1v1h-1zM202 299h1v1h-1zM203 299h1v1h-1z"/>
<path fill="#3e52ec" d="M182 278h1v1h-1zM182 279h1v1h-1zM182 280h1v1h-1zM181 281h1v1h-1zM180 282h1v1h-1zM181 282h1v1h-1zM179 283h1v1h-1zM178 284h1v1h-1zM176 285h1v1h-1zM175 286h1v1h-1zM176 286h1v1h-1zM174 287h1v1h-1zM187 287h1v1h-1zM172 288h1v1h-1zM173 288h1v1h-1zM189 288h1v1h-1zM171 289h1v1h-1zM170 290h1v1h-1zM193 290h1v1h-1zM197 291h1v1h-1zM198 291h1v1h-1zM202 292h1v1h-1zM203 292h1v1h-1zM204 292h1v1h-1zM205 292h1v1h-1zM208 293h1v1h-1zM209 293h1v1h-1zM210 293h1v1h-1zM211 293h1v1h-1zM212 293h1v1h-1zM166 294h1v1h-1zM213 294h1v1h-1zM214 294h1v1h-1zM216 294h1v1h-1zM214 295h1v1h-1zM215 295h1v1h-1zM216 295h1v1h-1zM217 295h1v1h-1zM164 296h1v1h-1zM213 296h1v1h-1zM214 296h1v1h-1zM215 296h1v1h-1zM216 296h1v1h-1zM217 296h1v1h-1zM163 297h1v1h-1zM210 297h1v1h-1zM212 297h1v1h-1zM214 297h1v1h-1zM162 298h1v1h-1zM207 298h1v1h-1zM208 298h1v1h-1zM160 299h1v1h-1zM198 299h1v1h-1zM200 299h1v1h-1z"/>
<path fill="#3453eb" d="M182 282h1v1h-1zM181 283h1v1h-1zM178 285h1v1h-1zM179 285h1v1h-1zM177 286h1v1h-1zM175 287h1v1h-1zM184 287h1v1h-1zM188 288h1v1h-1zM172 289h1v1h-1zM190 289h1v1h-1zM191 290h1v1h-1zM192 290h1v1h-1zM170 291h1v1h-1zM199 292h1v1h-1zM200 292h1v1h-1zM201 292h1v1h-1zM205 293h1v1h-1zM206 293h1v1h-1zM207 293h1v1h-1zM208 294h1v1h-1zM209 294h1v1h-1zM209 295h1v1h-1zM210 295h1v1h-1zM211 295h1v1h-1zM212 295h1v1h-1zM213 295h1v1h-1zM165 296h1v1h-1zM209 296h1v1h-1zM210 296h1v1h-1zM164 297h1v1h-1zM205 297h1v1h-1zM207 297h1v1h-1zM208 297h1v1h-1zM200 298h1v1h-1zM201 298h1v1h-1zM202 298h1v1h-1zM203 298h1v1h-1zM162 299h1v1h-1zM194 299h1v1h-1zM195 299h1v1h-1z"/>
<path fill="#2e63ec" d="M182 283h1v1h-1zM181 284h1v1h-1zM180 285h1v1h-1zM176 287h1v1h-1zM177 287h1v1h-1zM183 287h1v1h-1zM175 288h1v1h-1zM187 288h1v1h-1zM173 289h1v1h-1zM189 289h1v1h-1zM172 290h1v1h-1zM190 290h1v1h-1zM192 291h1v1h-1zM193 291h1v1h-1zM169 292h1v1h-1zM197 292h1v1h-1zM168 293h1v1h-1zM202 293h1v1h-1zM203 293h1v1h-1zM167 294h1v1h-1zM204 294h1v1h-1zM205 294h1v1h-1zM207 294h1v1h-1zM166 295h1v1h-1zM206 295h1v1h-1zM207 295h1v1h-1zM208 295h1v1h-1zM205 296h1v1h-1zM206 296h1v1h-1zM207 296h1v1h-1zM208 296h1v1h-1zM202 297h1v1h-1zM204 297h1v1h-1zM164 298h1v1h-1zM197 298h1v1h-1zM199 298h1v1h-1zM163 299h1v1h-1zM191 299h1v1h-1zM192 299h1v1h-1z"/>
<path fill="#2974ed" d="M180 286h1v1h-1zM176 288h1v1h-1zM188 289h1v1h-1zM189 290h1v1h-1zM171 291h1v1h-1zM191 291h1v1h-1zM170 292h1v1h-1zM194 292h1v1h-1zM195 292h1v1h-1zM198 293h1v1h-1zM199 293h1v1h-1zM200 293h1v1h-1zM168 294h1v1h-1zM202 294h1v1h-1zM167 295h1v1h-1zM202 295h1v1h-1zM203 295h1v1h-1zM204 295h1v1h-1zM205 295h1v1h-1zM201 296h1v1h-1zM203 296h1v1h-1zM165 297h1v1h-1zM198 297h1v1h-1zM200 297h1v1h-1zM201 297h1v1h-1zM194 298h1v1h-1zM195 298h1v1h-1zM188 299h1v1h-1zM189 299h1v1h-1z"/>
<path fill="#2385ee" d="M182 285h1v1h-1zM179 287h1v1h-1zM177 288h1v1h-1zM175 289h1v1h-1zM187 289h1v1h-1zM172 291h1v1h-1zM190 291h1v1h-1zM192 292h1v1h-1zM193 292h1v1h-1zM195 293h1v1h-1zM196 293h1v1h-1zM197 293h1v1h-1zM198 294h1v1h-1zM200 294h1v1h-1zM199 295h1v1h-1zM200 295h1v1h-1zM201 295h1v1h-1zM199 296h1v1h-1zM200 296h1v1h-1zM166 297h1v1h-1zM197 297h1v1h-1zM165 298h1v1h-1zM192 298h1v1h-1zM193 298h1v1h-1z"/>
<path fill="#1e96f0" d="M182 286h1v1h-1zM180 287h1v1h-1zM178 288h1v1h-1zM183 288h1v1h-1zM176 289h1v1h-1zM186 289h1v1h-1zM174 290h1v1h-1zM188 290h1v1h-1zM189 291h1v1h-1zM171 292h1v1h-1zM191 292h1v1h-1zM170 293h1v1h-1zM193 293h1v1h-1zM169 294h1v1h-1zM196 294h1v1h-1zM197 294h1v1h-1zM168 295h1v1h-1zM197 295h1v1h-1zM167 296h1v1h-1zM196 296h1v1h-1zM197 296h1v1h-1zM198 296h1v1h-1zM193 297h1v1h-1zM194 297h1v1h-1zM195 297h1v1h-1zM166 298h1v1h-1zM189 298h1v1h-1zM190 298h1v1h-1zM165 299h1v1h-1zM185 299h1v1h-1z"/>
<path fill="#20a6dc" d="M181 287h1v1h-1zM179 288h1v1h-1zM185 289h1v1h-1zM187 290h1v1h-1zM173 291h1v1h-1zM190 292h1v1h-1zM192 293h1v1h-1zM194 294h1v1h-1zM195 295h1v1h-1zM196 295h1v1h-1zM168 296h1v1h-1zM194 296h1v1h-1zM195 296h1v1h-1zM167 297h1v1h-1zM191 297h1v1h-1zM192 297h1v1h-1zM188 298h1v1h-1zM166 299h1v1h-1z"/>
<path fill="#23b7c9" d="M182 287h1v1h-1zM180 288h1v1h-1zM177 289h1v1h-1zM184 289h1v1h-1zM175 290h1v1h-1zM186 290h1v1h-1zM188 291h1v1h-1zM172 292h1v1h-1zM189 292h1v1h-1zM171 293h1v1h-1zM191 293h1v1h-1zM170 294h1v1h-1zM192 294h1v1h-1zM193 294h1v1h-1zM169 295h1v1h-1zM193 295h1v1h-1zM194 295h1v1h-1zM192 296h1v1h-1zM193 296h1v1h-1zM190 297h1v1h-1zM167 298h1v1h-1zM186 298h1v1h-1zM187 298h1v1h-1zM167 299h1v1h-1zM184 299h1v1h-1z"/>
<path fill="#26c8b5" d="M181 288h1v1h-1zM178 289h1v1h-1zM183 289h1v1h-1zM176 290h1v1h-1zM174 291h1v1h-1zM187 291h1v1h-1zM190 293h1v1h-1zM191 294h1v1h-1zM191 295h1v1h-1zM192 295h1v1h-1zM190 296h1v1h-1zM191 296h1v1h-1zM168 297h1v1h-1zM188 297h1v1h-1zM189 297h1v1h-1zM185 298h1v1h-1z"/>
<path fill="#2ad39d" d="M182 288h1v1h-1zM179 289h1v1h-1zM185 290h1v1h-1zM173 292h1v1h-1zM188 292h1v1h-1zM172 293h1v1h-1zM189 293h1v1h-1zM190 294h1v1h-1zM170 295h1v1h-1zM190 295h1v1h-1zM169 296h1v1h-1zM189 296h1v1h-1zM187 297h1v1h-1zM168 298h1v1h-1zM168 299h1v1h-1zM183 299h1v1h-1z"/>
<path fill="#2fd57f" d="M180 289h1v1h-1zM177 290h1v1h-1zM175 291h1v1h-1zM186 291h1v1h-1zM187 292h1v1h-1zM188 293h1v1h-1zM171 294h1v1h-1zM189 294h1v1h-1zM189 295h1v1h-1zM188 296h1v1h-1zM169 297h1v1h-1zM186 297h1v1h-1zM169 298h1v1h-1zM184 298h1v1h-1zM169 299h1v1h-1z"/>
<path fill="#35d860" d="M181 289h1v1h-1zM178 290h1v1h-1zM184 290h1v1h-1zM174 292h1v1h-1zM188 294h1v1h-1zM188 295h1v1h-1zM170 296h1v1h-1zM187 296h1v1h-1zM180 299h1v1h-1z"/>
<path fill="#3adb42" d="M182 289h1v1h-1zM179 290h1v1h-1zM183 290h1v1h-1zM176 291h1v1h-1zM185 291h1v1h-1zM186 292h1v1h-1zM173 293h1v1h-1zM187 293h1v1h-1zM172 294h1v1h-1zM171 295h1v1h-1zM187 295h1v1h-1zM170 297h1v1h-1zM185 297h1v1h-1zM170 298h1v1h-1zM170 299h1v1h-1zM179 299h1v1h-1zM181 299h1v1h-1zM182 299h1v1h-1z"/>
<path fill="#5bde35" d="M180 290h1v1h-1zM177 291h1v1h-1zM175 292h1v1h-1zM187 294h1v1h-1zM171 296h1v1h-1zM186 296h1v1h-1zM180 298h1v1h-1zM181 298h1v1h-1zM182 298h1v1h-1zM183 298h1v1h-1zM171 299h1v1h-1zM178 299h1v1h-1z"/>
<path fill="#81e12d" d="M181 290h1v1h-1zM184 291h1v1h-1zM185 292h1v1h-1zM186 293h1v1h-1zM186 294h1v1h-1zM172 295h1v1h-1zM186 295h1v1h-1zM185 296h1v1h-1zM171 297h1v1h-1zM182 297h1v1h-1zM184 297h1v1h-1zM171 298h1v1h-1zM179 298h1v1h-1zM172 299h1v1h-1zM176 299h1v1h-1zM177 299h1v1h-1z"/>
<path fill="#a8e324" d="M182 290h1v1h-1zM178 291h1v1h-1zM174 293h1v1h-1zM173 294h1v1h-1zM180 297h1v1h-1zM181 297h1v1h-1zM172 298h1v1h-1zM178 298h1v1h-1zM173 299h1v1h-1zM174 299h1v1h-1zM175 299h1v1h-1z"/>
<path fill="#cae11d" d="M179 291h1v1h-1zM180 291h1v1h-1zM183 291h1v1h-1zM176 292h1v1h-1zM185 293h1v1h-1zM185 294h1v1h-1zM185 295h1v1h-1zM172 296h1v1h-1zM182 296h1v1h-1zM184 296h1v1h-1zM172 297h1v1h-1zM183 297h1v1h-1zM177 298h1v1h-1z"/>
<path fill="#d8cb1a" d="M181 291h1v1h-1zM182 291h1v1h-1zM184 292h1v1h-1zM173 295h1v1h-1zM181 296h1v1h-1zM179 297h1v1h-1zM173 298h1v1h-1zM174 298h1v1h-1zM176 298h1v1h-1z"/>
<path fill="#e6b517" d="M177 292h1v1h-1zM175 293h1v1h-1zM174 294h1v1h-1zM182 295h1v1h-1zM184 295h1v1h-1zM173 296h1v1h-1zM180 296h1v1h-1zM173 297h1v1h-1zM175 298h1v1h-1z"/>
<path fill="#f49e15" d="M178 292h1v1h-1zM180 292h1v1h-1zM182 292h1v1h-1zM184 293h1v1h-1zM182 294h1v1h-1zM184 294h1v1h-1zM181 295h1v1h-1zM183 296h1v1h-1zM174 297h1v1h-1zM178 297h1v1h-1z"/>
<path fill="#f78114" d="M179 292h1v1h-1zM181 292h1v1h-1zM183 292h1v1h-1zM181 293h1v1h-1zM182 293h1v1h-1zM174 295h1v1h-1zM174 296h1v1h-1zM175 297h1v1h-1zM177 297h1v1h-1z"/>
<path fill="#f36014" d="M176 293h1v1h-1zM180 293h1v1h-1zM175 294h1v1h-1zM181 294h1v1h-1zM180 295h1v1h-1zM179 296h1v1h-1zM176 297h1v1h-1z"/>
<path fill="#ef3f14" d="M183 293h1v1h-1zM180 294h1v1h-1zM183 294h1v1h-1zM183 295h1v1h-1zM175 296h1v1h-1z"/>
<path fill="#eb1e14" d="M177 293h1v1h-1zM178 293h1v1h-1zM179 293h1v1h-1zM176 294h1v1h-1zM177 294h1v1h-1zM178 294h1v1h-1zM179 294h1v1h-1zM175 295h1v1h-1zM176 295h1v1h-1zM177 295h1v1h-1zM178 295h1v1h-1zM179 295h1v1h-1zM176 296h1v1h-1zM177 296h1v1h-1zM178 296h1v1h-1z"/>
<rect x="183.25" y="259.30" width="39.55" height="39.70" fill="none" stroke="#6a6a6a" stroke-width="0.90"/>
<rect x="156.40" y="227.60" width="74.50" height="73.00" fill="none" stroke="#000" stroke-width="1.20"/>
<text x="201.80" y="267.40" font-size="7.20" textLength="17.90" lengthAdjust="spacingAndGlyphs" fill="#222" stroke="#222" stroke-width="0.22">43.2%</text>
<text x="177.00" y="223.80" font-size="10.40" textLength="33.00" lengthAdjust="spacingAndGlyphs" fill="#111" stroke="#111" stroke-width="0.22">GlcNAc</text>
<line x1="153.00" y1="300.40" x2="156.40" y2="300.40" stroke="#000" stroke-width="1.00"/>
<text x="147.11" y="303.00" font-size="7.90" fill="#111" stroke="#111" stroke-width="0.22">0</text>
<line x1="154.00" y1="297.58" x2="156.40" y2="297.58" stroke="#000" stroke-width="0.80"/>
<line x1="154.00" y1="294.76" x2="156.40" y2="294.76" stroke="#000" stroke-width="0.80"/>
<line x1="154.00" y1="291.94" x2="156.40" y2="291.94" stroke="#000" stroke-width="0.80"/>
<line x1="154.00" y1="289.12" x2="156.40" y2="289.12" stroke="#000" stroke-width="0.80"/>
<line x1="153.00" y1="286.30" x2="156.40" y2="286.30" stroke="#000" stroke-width="1.00"/>
<text x="137.44" y="288.90" font-size="7.90" fill="#111" stroke="#111" stroke-width="0.22">50K</text>
<line x1="154.00" y1="283.48" x2="156.40" y2="283.48" stroke="#000" stroke-width="0.80"/>
<line x1="154.00" y1="280.66" x2="156.40" y2="280.66" stroke="#000" stroke-width="0.80"/>
<line x1="154.00" y1="277.84" x2="156.40" y2="277.84" stroke="#000" stroke-width="0.80"/>
<line x1="154.00" y1="275.02" x2="156.40" y2="275.02" stroke="#000" stroke-width="0.80"/>
<line x1="153.00" y1="272.20" x2="156.40" y2="272.20" stroke="#000" stroke-width="1.00"/>
<text x="133.05" y="274.80" font-size="7.90" fill="#111" stroke="#111" stroke-width="0.22">100K</text>
<line x1="154.00" y1="269.38" x2="156.40" y2="269.38" stroke="#000" stroke-width="0.80"/>
<line x1="154.00" y1="266.56" x2="156.40" y2="266.56" stroke="#000" stroke-width="0.80"/>
<line x1="154.00" y1="263.74" x2="156.40" y2="263.74" stroke="#000" stroke-width="0.80"/>
<line x1="154.00" y1="260.92" x2="156.40" y2="260.92" stroke="#000" stroke-width="0.80"/>
<line x1="153.00" y1="258.10" x2="156.40" y2="258.10" stroke="#000" stroke-width="1.00"/>
<text x="133.05" y="260.70" font-size="7.90" fill="#111" stroke="#111" stroke-width="0.22">150K</text>
<line x1="154.00" y1="255.28" x2="156.40" y2="255.28" stroke="#000" stroke-width="0.80"/>
<line x1="154.00" y1="252.46" x2="156.40" y2="252.46" stroke="#000" stroke-width="0.80"/>
<line x1="154.00" y1="249.64" x2="156.40" y2="249.64" stroke="#000" stroke-width="0.80"/>
<line x1="154.00" y1="246.82" x2="156.40" y2="246.82" stroke="#000" stroke-width="0.80"/>
<line x1="153.00" y1="244.00" x2="156.40" y2="244.00" stroke="#000" stroke-width="1.00"/>
<text x="133.05" y="246.60" font-size="7.90" fill="#111" stroke="#111" stroke-width="0.22">200K</text>
<line x1="154.00" y1="241.18" x2="156.40" y2="241.18" stroke="#000" stroke-width="0.80"/>
<line x1="154.00" y1="238.36" x2="156.40" y2="238.36" stroke="#000" stroke-width="0.80"/>
<line x1="154.00" y1="235.54" x2="156.40" y2="235.54" stroke="#000" stroke-width="0.80"/>
<line x1="154.00" y1="232.72" x2="156.40" y2="232.72" stroke="#000" stroke-width="0.80"/>
<line x1="153.00" y1="229.90" x2="156.40" y2="229.90" stroke="#000" stroke-width="1.00"/>
<text x="133.05" y="232.50" font-size="7.90" fill="#111" stroke="#111" stroke-width="0.22">250K</text>
<line x1="170.00" y1="300.60" x2="170.00" y2="303.60" stroke="#000" stroke-width="1.00"/>
<text x="164.18" y="314.00" font-size="8.40" fill="#1a1a1a">10</text>
<text x="173.32" y="310.64" font-size="5.21" fill="#1a1a1a">2</text>
<line x1="187.50" y1="300.60" x2="187.50" y2="303.60" stroke="#000" stroke-width="1.00"/>
<text x="181.68" y="314.00" font-size="8.40" fill="#1a1a1a">10</text>
<text x="190.82" y="310.64" font-size="5.21" fill="#1a1a1a">3</text>
<line x1="205.50" y1="300.60" x2="205.50" y2="303.60" stroke="#000" stroke-width="1.00"/>
<text x="199.68" y="314.00" font-size="8.40" fill="#1a1a1a">10</text>
<text x="208.82" y="310.64" font-size="5.21" fill="#1a1a1a">4</text>
<line x1="223.25" y1="300.60" x2="223.25" y2="303.60" stroke="#000" stroke-width="1.00"/>
<text x="217.43" y="314.00" font-size="8.40" fill="#1a1a1a">10</text>
<text x="226.57" y="310.64" font-size="5.21" fill="#1a1a1a">5</text>
<line x1="157.77" y1="300.60" x2="157.77" y2="302.40" stroke="#000" stroke-width="0.70"/>
<line x1="160.85" y1="300.60" x2="160.85" y2="302.40" stroke="#000" stroke-width="0.70"/>
<line x1="163.04" y1="300.60" x2="163.04" y2="302.40" stroke="#000" stroke-width="0.70"/>
<line x1="164.73" y1="300.60" x2="164.73" y2="302.40" stroke="#000" stroke-width="0.70"/>
<line x1="166.12" y1="300.60" x2="166.12" y2="302.40" stroke="#000" stroke-width="0.70"/>
<line x1="167.29" y1="300.60" x2="167.29" y2="302.40" stroke="#000" stroke-width="0.70"/>
<line x1="168.30" y1="300.60" x2="168.30" y2="302.40" stroke="#000" stroke-width="0.70"/>
<line x1="169.20" y1="300.60" x2="169.20" y2="302.40" stroke="#000" stroke-width="0.70"/>
<line x1="175.27" y1="300.60" x2="175.27" y2="302.40" stroke="#000" stroke-width="0.70"/>
<line x1="178.35" y1="300.60" x2="178.35" y2="302.40" stroke="#000" stroke-width="0.70"/>
<line x1="180.54" y1="300.60" x2="180.54" y2="302.40" stroke="#000" stroke-width="0.70"/>
<line x1="182.23" y1="300.60" x2="182.23" y2="302.40" stroke="#000" stroke-width="0.70"/>
<line x1="183.62" y1="300.60" x2="183.62" y2="302.40" stroke="#000" stroke-width="0.70"/>
<line x1="184.79" y1="300.60" x2="184.79" y2="302.40" stroke="#000" stroke-width="0.70"/>
<line x1="185.80" y1="300.60" x2="185.80" y2="302.40" stroke="#000" stroke-width="0.70"/>
<line x1="186.70" y1="300.60" x2="186.70" y2="302.40" stroke="#000" stroke-width="0.70"/>
<line x1="192.77" y1="300.60" x2="192.77" y2="302.40" stroke="#000" stroke-width="0.70"/>
<line x1="195.85" y1="300.60" x2="195.85" y2="302.40" stroke="#000" stroke-width="0.70"/>
<line x1="198.04" y1="300.60" x2="198.04" y2="302.40" stroke="#000" stroke-width="0.70"/>
<line x1="199.73" y1="300.60" x2="199.73" y2="302.40" stroke="#000" stroke-width="0.70"/>
<line x1="201.12" y1="300.60" x2="201.12" y2="302.40" stroke="#000" stroke-width="0.70"/>
<line x1="202.29" y1="300.60" x2="202.29" y2="302.40" stroke="#000" stroke-width="0.70"/>
<line x1="203.30" y1="300.60" x2="203.30" y2="302.40" stroke="#000" stroke-width="0.70"/>
<line x1="204.20" y1="300.60" x2="204.20" y2="302.40" stroke="#000" stroke-width="0.70"/>
<line x1="210.27" y1="300.60" x2="210.27" y2="302.40" stroke="#000" stroke-width="0.70"/>
<line x1="213.35" y1="300.60" x2="213.35" y2="302.40" stroke="#000" stroke-width="0.70"/>
<line x1="215.54" y1="300.60" x2="215.54" y2="302.40" stroke="#000" stroke-width="0.70"/>
<line x1="217.23" y1="300.60" x2="217.23" y2="302.40" stroke="#000" stroke-width="0.70"/>
<line x1="218.62" y1="300.60" x2="218.62" y2="302.40" stroke="#000" stroke-width="0.70"/>
<line x1="219.79" y1="300.60" x2="219.79" y2="302.40" stroke="#000" stroke-width="0.70"/>
<line x1="220.80" y1="300.60" x2="220.80" y2="302.40" stroke="#000" stroke-width="0.70"/>
<line x1="221.70" y1="300.60" x2="221.70" y2="302.40" stroke="#000" stroke-width="0.70"/>
<line x1="227.77" y1="300.60" x2="227.77" y2="302.40" stroke="#000" stroke-width="0.70"/>
<line x1="230.85" y1="300.60" x2="230.85" y2="302.40" stroke="#000" stroke-width="0.70"/>
<line x1="22.50" y1="319.50" x2="22.50" y2="283.00" stroke="#000" stroke-width="1.30"/>
<polygon points="22.5,279.5 20.2,285 24.8,285" fill="#000"/>
<line x1="22.50" y1="319.50" x2="70.00" y2="319.50" stroke="#000" stroke-width="1.30"/>
<polygon points="74,319.5 68.5,317.2 68.5,321.8" fill="#000"/>
<text transform="translate(18.40 306.20) rotate(-90)" x="0" y="0" text-anchor="middle" font-size="10.00" textLength="16.10" lengthAdjust="spacingAndGlyphs" fill="#111" stroke="#111" stroke-width="0.22">SSC</text>
<text x="37.00" y="330.20" font-size="10.00" textLength="22.50" lengthAdjust="spacingAndGlyphs" fill="#111" stroke="#111" stroke-width="0.22">TNFa</text>
<line x1="55.10" y1="351.00" x2="55.10" y2="432.40" stroke="#000" stroke-width="1.30"/>
<line x1="51.25" y1="431.80" x2="55.10" y2="431.80" stroke="#000" stroke-width="1.30"/>
<text x="44.77" y="433.91" font-size="7.80" textLength="4.03" lengthAdjust="spacingAndGlyphs" fill="#111" stroke="#111" stroke-width="0.22">0</text>
<line x1="51.25" y1="405.07" x2="55.10" y2="405.07" stroke="#000" stroke-width="1.30"/>
<text x="40.73" y="407.17" font-size="7.80" textLength="8.07" lengthAdjust="spacingAndGlyphs" fill="#111" stroke="#111" stroke-width="0.22">20</text>
<line x1="51.25" y1="378.33" x2="55.10" y2="378.33" stroke="#000" stroke-width="1.30"/>
<text x="40.73" y="380.44" font-size="7.80" textLength="8.07" lengthAdjust="spacingAndGlyphs" fill="#111" stroke="#111" stroke-width="0.22">40</text>
<line x1="51.25" y1="351.60" x2="55.10" y2="351.60" stroke="#000" stroke-width="1.30"/>
<text x="40.73" y="353.70" font-size="7.80" textLength="8.07" lengthAdjust="spacingAndGlyphs" fill="#111" stroke="#111" stroke-width="0.22">60</text>
<line x1="51.25" y1="431.80" x2="111.70" y2="431.80" stroke="#000" stroke-width="1.20"/>
<line x1="69.00" y1="431.80" x2="69.00" y2="434.60" stroke="#000" stroke-width="1.00"/>
<line x1="98.20" y1="431.80" x2="98.20" y2="434.60" stroke="#000" stroke-width="1.00"/>
<line x1="69.05" y1="401.40" x2="69.05" y2="393.40" stroke="#000" stroke-width="1.10"/>
<line x1="63.95" y1="393.40" x2="74.15" y2="393.40" stroke="#000" stroke-width="1.10"/>
<rect x="59.40" y="401.40" width="19.30" height="30.40" fill="#fff" stroke="#000" stroke-width="1.10"/>
<line x1="98.20" y1="378.10" x2="98.20" y2="374.50" stroke="#000" stroke-width="1.10"/>
<line x1="93.35" y1="374.50" x2="103.05" y2="374.50" stroke="#000" stroke-width="1.10"/>
<rect x="88.70" y="378.10" width="19.00" height="53.70" fill="#0233ab" stroke="#000" stroke-width="1.10"/>
<line x1="66.20" y1="354.30" x2="96.20" y2="354.30" stroke="#000" stroke-width="1.35"/>
<polygon points="78.30,347.80 78.72,348.52 79.54,348.70 78.98,349.32 79.06,350.15 78.30,349.81 77.54,350.15 77.62,349.32 77.06,348.70 77.88,348.52" fill="#000" stroke="#000" stroke-width="0.35" stroke-linejoin="round"/>
<polygon points="82.30,347.80 82.72,348.52 83.54,348.70 82.98,349.32 83.06,350.15 82.30,349.81 81.54,350.15 81.62,349.32 81.06,348.70 81.88,348.52" fill="#000" stroke="#000" stroke-width="0.35" stroke-linejoin="round"/>
<text transform="translate(22.59 392.10) rotate(-90)" x="0" y="0" text-anchor="middle" font-size="8.20" textLength="81.00" lengthAdjust="spacingAndGlyphs" fill="#111" stroke="#111" stroke-width="0.22">TNF-alpha concentration</text>
<text transform="translate(34.19 393.20) rotate(-90)" x="0" y="0" text-anchor="middle" font-size="8.20" textLength="35.10" lengthAdjust="spacingAndGlyphs" fill="#111" stroke="#111" stroke-width="0.22">(in pg/mL)</text>
<text x="61.20" y="445.20" font-size="8.40" textLength="18.40" lengthAdjust="spacingAndGlyphs" fill="#111" stroke="#111" stroke-width="0.22">CTRL</text>
<text x="84.60" y="445.20" font-size="8.40" textLength="27.10" lengthAdjust="spacingAndGlyphs" fill="#111" stroke="#111" stroke-width="0.22">GlcNAc</text>
<text x="84.10" y="454.00" font-size="8.40" textLength="27.60" lengthAdjust="spacingAndGlyphs" fill="#111" stroke="#111" stroke-width="0.22">100 mM</text>
<text x="170.70" y="345.60" font-size="10.20" textLength="58.20" lengthAdjust="spacingAndGlyphs" fill="#111" stroke="#111" stroke-width="0.22">TNF-a - ELISA</text>
<line x1="162.20" y1="348.70" x2="162.20" y2="433.60" stroke="#000" stroke-width="1.30"/>
<line x1="158.20" y1="433.00" x2="162.20" y2="433.00" stroke="#000" stroke-width="1.30"/>
<text x="152.01" y="435.13" font-size="7.90" textLength="4.09" lengthAdjust="spacingAndGlyphs" fill="#111" stroke="#111" stroke-width="0.22">0</text>
<line x1="158.20" y1="412.07" x2="162.20" y2="412.07" stroke="#000" stroke-width="1.30"/>
<text x="147.93" y="414.21" font-size="7.90" textLength="8.17" lengthAdjust="spacingAndGlyphs" fill="#111" stroke="#111" stroke-width="0.22">50</text>
<line x1="158.20" y1="391.15" x2="162.20" y2="391.15" stroke="#000" stroke-width="1.30"/>
<text x="143.84" y="393.28" font-size="7.90" textLength="12.26" lengthAdjust="spacingAndGlyphs" fill="#111" stroke="#111" stroke-width="0.22">100</text>
<line x1="158.20" y1="370.23" x2="162.20" y2="370.23" stroke="#000" stroke-width="1.30"/>
<text x="143.84" y="372.36" font-size="7.90" textLength="12.26" lengthAdjust="spacingAndGlyphs" fill="#111" stroke="#111" stroke-width="0.22">150</text>
<line x1="158.20" y1="349.30" x2="162.20" y2="349.30" stroke="#000" stroke-width="1.30"/>
<text x="143.84" y="351.43" font-size="7.90" textLength="12.26" lengthAdjust="spacingAndGlyphs" fill="#111" stroke="#111" stroke-width="0.22">200</text>
<line x1="158.20" y1="433.00" x2="226.00" y2="433.00" stroke="#000" stroke-width="1.20"/>
<line x1="178.25" y1="433.00" x2="178.25" y2="435.80" stroke="#000" stroke-width="1.00"/>
<line x1="210.15" y1="433.00" x2="210.15" y2="435.80" stroke="#000" stroke-width="1.00"/>
<line x1="178.25" y1="401.60" x2="178.25" y2="398.70" stroke="#000" stroke-width="1.10"/>
<line x1="172.50" y1="398.70" x2="184.00" y2="398.70" stroke="#000" stroke-width="1.10"/>
<rect x="167.50" y="401.60" width="21.50" height="31.40" fill="#fff" stroke="#000" stroke-width="1.10"/>
<line x1="210.15" y1="372.00" x2="210.15" y2="366.70" stroke="#000" stroke-width="1.10"/>
<line x1="204.90" y1="366.70" x2="215.40" y2="366.70" stroke="#000" stroke-width="1.10"/>
<rect x="199.50" y="372.00" width="21.30" height="61.00" fill="#0233ab" stroke="#000" stroke-width="1.10"/>
<line x1="174.20" y1="358.50" x2="204.20" y2="358.50" stroke="#000" stroke-width="1.35"/>
<polygon points="186.80,352.00 187.22,352.72 188.04,352.90 187.48,353.52 187.56,354.35 186.80,354.01 186.04,354.35 186.12,353.52 185.56,352.90 186.38,352.72" fill="#000" stroke="#000" stroke-width="0.35" stroke-linejoin="round"/>
<polygon points="190.65,352.00 191.07,352.72 191.89,352.90 191.33,353.52 191.41,354.35 190.65,354.01 189.89,354.35 189.97,353.52 189.41,352.90 190.23,352.72" fill="#000" stroke="#000" stroke-width="0.35" stroke-linejoin="round"/>
<polygon points="194.50,352.00 194.92,352.72 195.74,352.90 195.18,353.52 195.26,354.35 194.50,354.01 193.74,354.35 193.82,353.52 193.26,352.90 194.08,352.72" fill="#000" stroke="#000" stroke-width="0.35" stroke-linejoin="round"/>
<text transform="translate(126.39 391.50) rotate(-90)" x="0" y="0" text-anchor="middle" font-size="8.20" textLength="79.90" lengthAdjust="spacingAndGlyphs" fill="#111" stroke="#111" stroke-width="0.22">TNF-alpha concentration</text>
<text transform="translate(139.09 392.30) rotate(-90)" x="0" y="0" text-anchor="middle" font-size="8.20" textLength="35.30" lengthAdjust="spacingAndGlyphs" fill="#111" stroke="#111" stroke-width="0.22">(in pg/mL)</text>
<text x="170.30" y="445.80" font-size="9.00" textLength="18.80" lengthAdjust="spacingAndGlyphs" fill="#111" stroke="#111" stroke-width="0.22">CTRL</text>
<text x="196.20" y="445.80" font-size="9.00" textLength="27.90" lengthAdjust="spacingAndGlyphs" fill="#111" stroke="#111" stroke-width="0.22">GlcNAc</text>
<text x="196.80" y="454.90" font-size="8.40" textLength="26.90" lengthAdjust="spacingAndGlyphs" fill="#111" stroke="#111" stroke-width="0.22">100 mM</text>
<text x="257.00" y="204.30" font-size="11.4" textLength="7.08" lengthAdjust="spacingAndGlyphs" fill="#000" stroke="#000" stroke-width="0.45">D</text>
<text x="326.30" y="227.30" font-size="9.60" textLength="20.80" lengthAdjust="spacingAndGlyphs" fill="#111" stroke="#111" stroke-width="0.22">IL-13</text>
<line x1="309.70" y1="236.62" x2="309.70" y2="322.60" stroke="#000" stroke-width="1.30"/>
<line x1="306.10" y1="322.00" x2="309.70" y2="322.00" stroke="#000" stroke-width="1.30"/>
<text x="299.97" y="324.00" font-size="7.40" textLength="3.83" lengthAdjust="spacingAndGlyphs" fill="#111" stroke="#111" stroke-width="0.22">0</text>
<line x1="306.10" y1="293.74" x2="309.70" y2="293.74" stroke="#000" stroke-width="1.30"/>
<text x="294.23" y="295.74" font-size="7.40" textLength="9.57" lengthAdjust="spacingAndGlyphs" fill="#111" stroke="#111" stroke-width="0.22">0.2</text>
<line x1="306.10" y1="265.48" x2="309.70" y2="265.48" stroke="#000" stroke-width="1.30"/>
<text x="294.23" y="267.48" font-size="7.40" textLength="9.57" lengthAdjust="spacingAndGlyphs" fill="#111" stroke="#111" stroke-width="0.22">0.4</text>
<line x1="306.10" y1="237.22" x2="309.70" y2="237.22" stroke="#000" stroke-width="1.30"/>
<text x="294.23" y="239.22" font-size="7.40" textLength="9.57" lengthAdjust="spacingAndGlyphs" fill="#111" stroke="#111" stroke-width="0.22">0.6</text>
<line x1="306.50" y1="322.00" x2="373.70" y2="322.00" stroke="#000" stroke-width="1.20"/>
<line x1="325.75" y1="322.00" x2="325.75" y2="324.80" stroke="#000" stroke-width="1.00"/>
<line x1="358.20" y1="322.00" x2="358.20" y2="324.80" stroke="#000" stroke-width="1.00"/>
<line x1="325.75" y1="280.00" x2="325.75" y2="278.30" stroke="#000" stroke-width="1.10"/>
<line x1="321.25" y1="278.30" x2="330.25" y2="278.30" stroke="#000" stroke-width="1.10"/>
<rect x="314.70" y="280.00" width="22.10" height="42.00" fill="#fff" stroke="#000" stroke-width="1.10"/>
<line x1="358.20" y1="258.00" x2="358.20" y2="245.30" stroke="#000" stroke-width="1.10"/>
<line x1="352.40" y1="245.30" x2="364.00" y2="245.30" stroke="#000" stroke-width="1.10"/>
<rect x="347.20" y="258.00" width="22.00" height="64.00" fill="#0233ab" stroke="#000" stroke-width="1.10"/>
<line x1="324.50" y1="238.60" x2="354.60" y2="238.60" stroke="#000" stroke-width="1.30"/>
<polygon points="336.50,233.05 336.84,233.63 337.50,233.78 337.05,234.28 337.12,234.95 336.50,234.68 335.88,234.95 335.95,234.28 335.50,233.78 336.16,233.63" fill="#000" stroke="#000" stroke-width="0.35" stroke-linejoin="round"/>
<polygon points="340.40,233.05 340.74,233.63 341.40,233.78 340.95,234.28 341.02,234.95 340.40,234.68 339.78,234.95 339.85,234.28 339.40,233.78 340.06,233.63" fill="#000" stroke="#000" stroke-width="0.35" stroke-linejoin="round"/>
<text transform="translate(276.08 279.10) rotate(-90)" x="0" y="0" text-anchor="middle" font-size="8.60" textLength="63.00" lengthAdjust="spacingAndGlyphs" fill="#111" stroke="#111" stroke-width="0.22">IL-13 concentration</text>
<text transform="translate(288.43 280.50) rotate(-90)" x="0" y="0" text-anchor="middle" font-size="8.40" textLength="36.70" lengthAdjust="spacingAndGlyphs" fill="#111" stroke="#111" stroke-width="0.22">(in pg/mL)</text>
<text x="318.80" y="333.80" font-size="6.40" textLength="15.00" lengthAdjust="spacingAndGlyphs" fill="#111" stroke="#111" stroke-width="0.22">CTRL</text>
<text x="347.30" y="333.80" font-size="6.60" textLength="21.90" lengthAdjust="spacingAndGlyphs" fill="#111" stroke="#111" stroke-width="0.22">GlcNAc</text>
<text x="347.30" y="342.00" font-size="6.60" textLength="23.90" lengthAdjust="spacingAndGlyphs" fill="#111" stroke="#111" stroke-width="0.22">100 mM</text>
<text x="399.30" y="213.40" font-size="11.4" textLength="6.54" lengthAdjust="spacingAndGlyphs" fill="#000" stroke="#000" stroke-width="0.45">E</text>
<text x="455.60" y="227.10" font-size="10.00" textLength="15.60" lengthAdjust="spacingAndGlyphs" fill="#111" stroke="#111" stroke-width="0.22">IL-6</text>
<line x1="440.80" y1="237.70" x2="440.80" y2="321.70" stroke="#000" stroke-width="1.30"/>
<line x1="437.10" y1="321.10" x2="440.80" y2="321.10" stroke="#000" stroke-width="1.30"/>
<text x="431.47" y="323.15" font-size="7.60" textLength="3.93" lengthAdjust="spacingAndGlyphs" fill="#111" stroke="#111" stroke-width="0.22">0</text>
<line x1="437.10" y1="304.54" x2="440.80" y2="304.54" stroke="#000" stroke-width="1.30"/>
<text x="427.54" y="306.59" font-size="7.60" textLength="7.86" lengthAdjust="spacingAndGlyphs" fill="#111" stroke="#111" stroke-width="0.22">10</text>
<line x1="437.10" y1="287.98" x2="440.80" y2="287.98" stroke="#000" stroke-width="1.30"/>
<text x="427.54" y="290.03" font-size="7.60" textLength="7.86" lengthAdjust="spacingAndGlyphs" fill="#111" stroke="#111" stroke-width="0.22">20</text>
<line x1="437.10" y1="271.42" x2="440.80" y2="271.42" stroke="#000" stroke-width="1.30"/>
<text x="427.54" y="273.47" font-size="7.60" textLength="7.86" lengthAdjust="spacingAndGlyphs" fill="#111" stroke="#111" stroke-width="0.22">30</text>
<line x1="437.10" y1="254.86" x2="440.80" y2="254.86" stroke="#000" stroke-width="1.30"/>
<text x="427.54" y="256.91" font-size="7.60" textLength="7.86" lengthAdjust="spacingAndGlyphs" fill="#111" stroke="#111" stroke-width="0.22">40</text>
<line x1="437.10" y1="238.30" x2="440.80" y2="238.30" stroke="#000" stroke-width="1.30"/>
<text x="427.54" y="240.35" font-size="7.60" textLength="7.86" lengthAdjust="spacingAndGlyphs" fill="#111" stroke="#111" stroke-width="0.22">50</text>
<line x1="437.10" y1="321.10" x2="496.10" y2="321.10" stroke="#000" stroke-width="1.20"/>
<line x1="454.45" y1="321.10" x2="454.45" y2="323.90" stroke="#000" stroke-width="1.00"/>
<line x1="481.80" y1="321.10" x2="481.80" y2="323.90" stroke="#000" stroke-width="1.00"/>
<line x1="454.45" y1="300.80" x2="454.45" y2="294.90" stroke="#000" stroke-width="1.10"/>
<line x1="450.15" y1="294.90" x2="458.75" y2="294.90" stroke="#000" stroke-width="1.10"/>
<rect x="445.20" y="300.80" width="18.50" height="20.30" fill="#fff" stroke="#000" stroke-width="1.10"/>
<line x1="481.80" y1="264.00" x2="481.80" y2="255.40" stroke="#000" stroke-width="1.10"/>
<line x1="476.00" y1="255.40" x2="487.60" y2="255.40" stroke="#000" stroke-width="1.10"/>
<rect x="472.70" y="264.00" width="18.20" height="57.10" fill="#0233ab" stroke="#000" stroke-width="1.10"/>
<line x1="453.10" y1="242.80" x2="483.10" y2="242.80" stroke="#000" stroke-width="1.30"/>
<polygon points="464.60,237.65 464.97,238.29 465.69,238.44 465.20,239.00 465.28,239.73 464.60,239.43 463.92,239.73 464.00,239.00 463.51,238.44 464.23,238.29" fill="#000" stroke="#000" stroke-width="0.35" stroke-linejoin="round"/>
<polygon points="468.35,237.65 468.72,238.29 469.44,238.44 468.95,239.00 469.03,239.73 468.35,239.43 467.67,239.73 467.75,239.00 467.26,238.44 467.98,238.29" fill="#000" stroke="#000" stroke-width="0.35" stroke-linejoin="round"/>
<polygon points="472.10,237.65 472.47,238.29 473.19,238.44 472.70,239.00 472.78,239.73 472.10,239.43 471.42,239.73 471.50,239.00 471.01,238.44 471.73,238.29" fill="#000" stroke="#000" stroke-width="0.35" stroke-linejoin="round"/>
<text transform="translate(409.97 280.00) rotate(-90)" x="0" y="0" text-anchor="middle" font-size="9.00" textLength="59.90" lengthAdjust="spacingAndGlyphs" fill="#111" stroke="#111" stroke-width="0.22">IL-6 concentration</text>
<text transform="translate(420.88 281.00) rotate(-90)" x="0" y="0" text-anchor="middle" font-size="8.60" textLength="34.90" lengthAdjust="spacingAndGlyphs" fill="#111" stroke="#111" stroke-width="0.22">(in pg/mL)</text>
<text x="446.80" y="334.00" font-size="6.40" textLength="15.60" lengthAdjust="spacingAndGlyphs" fill="#111" stroke="#111" stroke-width="0.22">CTRL</text>
<text x="469.40" y="334.00" font-size="6.60" textLength="23.30" lengthAdjust="spacingAndGlyphs" fill="#111" stroke="#111" stroke-width="0.22">GlcNAc</text>
<text x="470.70" y="342.00" font-size="6.60" textLength="22.80" lengthAdjust="spacingAndGlyphs" fill="#111" stroke="#111" stroke-width="0.22">100 mM</text>
<text x="256.30" y="371.30" font-size="11.4" textLength="7.63" lengthAdjust="spacingAndGlyphs" fill="#000" stroke="#000" stroke-width="0.45">G</text>
<text x="278.90" y="391.30" font-size="9.30" textLength="34.60" lengthAdjust="spacingAndGlyphs" fill="#cc1428" stroke="#cc1428" stroke-width="0.22">CTRL or</text>
<text x="278.90" y="401.70" font-size="9.30" textLength="91.30" lengthAdjust="spacingAndGlyphs" fill="#cc1428" stroke="#cc1428" stroke-width="0.22">GlcNAc 20 mg/3days</text>
<text x="386.30" y="391.30" font-size="9.30" textLength="53.20" lengthAdjust="spacingAndGlyphs" fill="#111" stroke="#111" stroke-width="0.22">DNP-OVA in</text>
<text x="385.00" y="401.70" font-size="9.30" textLength="61.00" lengthAdjust="spacingAndGlyphs" fill="#111" stroke="#111" stroke-width="0.22">Evans blue dye</text>
<text x="464.20" y="391.30" font-size="9.30" textLength="42.30" lengthAdjust="spacingAndGlyphs" fill="#111" stroke="#111" stroke-width="0.22">Acute dye</text>
<text x="458.20" y="401.70" font-size="9.30" textLength="56.60" lengthAdjust="spacingAndGlyphs" fill="#111" stroke="#111" stroke-width="0.22">extravasation</text>
<text x="320.00" y="431.90" font-size="8.80" textLength="17.60" lengthAdjust="spacingAndGlyphs" fill="#111" stroke="#111" stroke-width="0.22">PBS</text>
<text x="377.00" y="431.90" font-size="8.80" textLength="13.50" lengthAdjust="spacingAndGlyphs" fill="#111" stroke="#111" stroke-width="0.22">IgE</text>
<defs><g id="mouse">
<path d="M0,-14 C-5,-18 -8,-17.5 -13,-14.2 C-16,-12 -19,-10.6 -21.2,-11.2 C-21.8,-11.5 -22,-12.2 -21.6,-12.8" fill="none" stroke="#000" stroke-width="1.95" stroke-linecap="round"/>
<path d="M0,-13.4 C-7,-13.4 -10.5,-8 -10.8,-3 C-12.6,-2 -12.8,2.6 -10.6,4 C-9,5.5 -7.5,7.5 -5.5,10 C-3,13.2 3,13.2 5.5,10 C7.5,7.5 9,5.5 10.6,4 C12.8,2.6 12.6,-2 10.8,-3 C10.5,-8 7,-13.4 0,-13.4 Z" fill="#bccad2" stroke="#000" stroke-width="1.5"/>
<path d="M-10.6,-2.6 C-8.5,-4.2 -4.6,-4 -3.8,-0.6 C-4.5,2.5 -7.5,3.8 -10.2,3.2 C-11.8,1.6 -11.8,-1 -10.6,-2.6 Z" fill="#ccd8e0" stroke="none"/>
<path d="M10.6,-2.6 C8.5,-4.2 4.6,-4 3.8,-0.6 C4.5,2.5 7.5,3.8 10.2,3.2 C11.8,1.6 11.8,-1 10.6,-2.6 Z" fill="#ccd8e0" stroke="none"/>
<path d="M-9.5,-2.8 C-7,-4.6 -3.6,-3.5 -3.3,0.8" fill="none" stroke="#000" stroke-width="1.3"/>
<path d="M9.5,-2.8 C7,-4.6 3.6,-3.5 3.3,0.8" fill="none" stroke="#000" stroke-width="1.3"/>
<circle cx="-2.9" cy="6.9" r="1.5" fill="#000"/>
<circle cx="2.9" cy="6.9" r="1.5" fill="#000"/>
<path d="M-4.6,9.6 C-3,13.6 3,13.6 4.6,9.6 C2,10.8 -2,10.8 -4.6,9.6 Z" fill="#000" stroke="#000" stroke-width="0.9"/>
<g stroke="#000" stroke-width="0.6" fill="none">
<path d="M-4,10.5 L-9.5,9.2 M-4,11 L-9.8,11.8 M-3.6,11.5 L-8.2,14.6 M-3,12 L-5.6,15.6"/>
<path d="M4,10.5 L9.5,9.2 M4,11 L9.8,11.8 M3.6,11.5 L8.2,14.6 M3,12 L5.6,15.6"/>
</g>
</g>
<g id="syr">
<path d="M-0.5,0 L9.5,0" stroke="#000" stroke-width="1.2"/>
<rect x="1.5" y="-1.2" width="5.5" height="2.4" fill="#fff" stroke="#000" stroke-width="0.9"/>
<path d="M7.2,-2.1 L7.2,2.1 M9.3,-2.3 L9.3,2.3 M1.5,-1.7 L1.5,1.7" stroke="#000" stroke-width="1.1"/>
</g>
</defs>
<use href="#mouse" x="297.5" y="430"/>
<use href="#syr" transform="translate(307.6 424) rotate(-45)"/>
<use href="#mouse" x="357.5" y="430"/>
<use href="#syr" transform="translate(347.8 428) rotate(-135)"/>
<use href="#syr" transform="translate(367.6 425.6) rotate(-35)"/>
<use href="#mouse" x="416.2" y="430"/>
<use href="#syr" transform="translate(423.6 437.6) rotate(-8)"/>
<use href="#mouse" x="482.3" y="430"/>
<circle cx="476.50" cy="432.7" r="3.7" fill="#2aa8f8" stroke="#0c48c8" stroke-width="1.1"/>
<circle cx="476.50" cy="432.4" r="2.0" fill="#6ad8ff"/>
<circle cx="489.10" cy="432.7" r="3.7" fill="#2aa8f8" stroke="#0c48c8" stroke-width="1.1"/>
<circle cx="489.10" cy="432.4" r="2.0" fill="#6ad8ff"/>
<line x1="296.50" y1="456.60" x2="480.00" y2="456.60" stroke="#000" stroke-width="1.20"/>
<polygon points="484.2,456.6 479,454.5 479,458.7" fill="#000"/>
<line x1="296.50" y1="451.40" x2="296.50" y2="461.50" stroke="#000" stroke-width="1.20"/>
<line x1="357.50" y1="451.40" x2="357.50" y2="461.50" stroke="#000" stroke-width="1.20"/>
<line x1="416.20" y1="451.40" x2="416.20" y2="461.50" stroke="#000" stroke-width="1.20"/>
<text x="283.00" y="470.30" font-size="9.30" textLength="23.40" lengthAdjust="spacingAndGlyphs" fill="#111" stroke="#111" stroke-width="0.22">Day 1</text>
<text x="343.30" y="470.30" font-size="9.30" textLength="23.30" lengthAdjust="spacingAndGlyphs" fill="#111" stroke="#111" stroke-width="0.22">Day 2</text>
<text x="400.60" y="470.30" font-size="9.30" textLength="24.60" lengthAdjust="spacingAndGlyphs" fill="#111" stroke="#111" stroke-width="0.22">Day 3</text>
<text x="464.20" y="470.30" font-size="9.30" textLength="33.80" lengthAdjust="spacingAndGlyphs" fill="#111" stroke="#111" stroke-width="0.22">1 h later</text>
<text x="6.25" y="477.00" font-size="11.4" textLength="5.99" lengthAdjust="spacingAndGlyphs" fill="#000" stroke="#000" stroke-width="0.45">F</text>
<line x1="73.50" y1="482.80" x2="73.50" y2="572.40" stroke="#000" stroke-width="1.30"/>
<line x1="70.00" y1="571.80" x2="73.50" y2="571.80" stroke="#000" stroke-width="1.30"/>
<text x="63.37" y="573.91" font-size="7.80" textLength="4.03" lengthAdjust="spacingAndGlyphs" fill="#111" stroke="#111" stroke-width="0.22">0</text>
<line x1="70.00" y1="554.12" x2="73.50" y2="554.12" stroke="#000" stroke-width="1.30"/>
<text x="59.33" y="556.23" font-size="7.80" textLength="8.07" lengthAdjust="spacingAndGlyphs" fill="#111" stroke="#111" stroke-width="0.22">20</text>
<line x1="70.00" y1="536.44" x2="73.50" y2="536.44" stroke="#000" stroke-width="1.30"/>
<text x="59.33" y="538.55" font-size="7.80" textLength="8.07" lengthAdjust="spacingAndGlyphs" fill="#111" stroke="#111" stroke-width="0.22">40</text>
<line x1="70.00" y1="518.76" x2="73.50" y2="518.76" stroke="#000" stroke-width="1.30"/>
<text x="59.33" y="520.87" font-size="7.80" textLength="8.07" lengthAdjust="spacingAndGlyphs" fill="#111" stroke="#111" stroke-width="0.22">60</text>
<line x1="70.00" y1="501.08" x2="73.50" y2="501.08" stroke="#000" stroke-width="1.30"/>
<text x="59.33" y="503.19" font-size="7.80" textLength="8.07" lengthAdjust="spacingAndGlyphs" fill="#111" stroke="#111" stroke-width="0.22">80</text>
<line x1="70.00" y1="483.40" x2="73.50" y2="483.40" stroke="#000" stroke-width="1.30"/>
<text x="55.30" y="485.51" font-size="7.80" textLength="12.10" lengthAdjust="spacingAndGlyphs" fill="#111" stroke="#111" stroke-width="0.22">100</text>
<text transform="translate(38.04 525.20) rotate(-90)" x="0" y="0" text-anchor="middle" font-size="9.50" textLength="71.40" lengthAdjust="spacingAndGlyphs" fill="#111" stroke="#111" stroke-width="0.22">Beta-hexosaminidase</text>
<text transform="translate(51.12 524.50) rotate(-90)" x="0" y="0" text-anchor="middle" font-size="8.80" textLength="49.90" lengthAdjust="spacingAndGlyphs" fill="#111" stroke="#111" stroke-width="0.22">released (in %)</text>
<line x1="70.00" y1="571.80" x2="221.40" y2="571.80" stroke="#000" stroke-width="1.20"/>
<line x1="82.15" y1="571.80" x2="82.15" y2="574.60" stroke="#000" stroke-width="1.00"/>
<line x1="82.15" y1="564.73" x2="82.15" y2="563.40" stroke="#000" stroke-width="1.10"/>
<line x1="79.40" y1="563.40" x2="84.90" y2="563.40" stroke="#000" stroke-width="1.10"/>
<rect x="76.75" y="564.73" width="10.80" height="7.07" fill="#fff" stroke="#000" stroke-width="1.10"/>
<line x1="98.45" y1="571.80" x2="98.45" y2="574.60" stroke="#000" stroke-width="1.00"/>
<line x1="98.45" y1="563.40" x2="98.45" y2="562.96" stroke="#000" stroke-width="1.10"/>
<line x1="95.70" y1="562.96" x2="101.20" y2="562.96" stroke="#000" stroke-width="1.10"/>
<rect x="93.05" y="563.40" width="10.80" height="8.40" fill="#fff" stroke="#000" stroke-width="1.10"/>
<line x1="114.80" y1="571.80" x2="114.80" y2="574.60" stroke="#000" stroke-width="1.00"/>
<line x1="114.80" y1="564.73" x2="114.80" y2="563.40" stroke="#000" stroke-width="1.10"/>
<line x1="112.05" y1="563.40" x2="117.55" y2="563.40" stroke="#000" stroke-width="1.10"/>
<rect x="109.40" y="564.73" width="10.80" height="7.07" fill="#fff" stroke="#000" stroke-width="1.10"/>
<line x1="131.10" y1="571.80" x2="131.10" y2="574.60" stroke="#000" stroke-width="1.00"/>
<line x1="131.10" y1="528.48" x2="131.10" y2="527.60" stroke="#000" stroke-width="1.10"/>
<line x1="128.35" y1="527.60" x2="133.85" y2="527.60" stroke="#000" stroke-width="1.10"/>
<rect x="125.70" y="528.48" width="10.80" height="43.32" fill="#0233ab" stroke="#000" stroke-width="1.10"/>
<line x1="147.70" y1="571.80" x2="147.70" y2="574.60" stroke="#000" stroke-width="1.00"/>
<line x1="147.70" y1="521.41" x2="147.70" y2="516.99" stroke="#000" stroke-width="1.10"/>
<line x1="144.95" y1="516.99" x2="150.45" y2="516.99" stroke="#000" stroke-width="1.10"/>
<rect x="142.30" y="521.41" width="10.80" height="50.39" fill="#0233ab" stroke="#000" stroke-width="1.10"/>
<line x1="164.00" y1="571.80" x2="164.00" y2="574.60" stroke="#000" stroke-width="1.00"/>
<line x1="164.00" y1="505.50" x2="164.00" y2="501.08" stroke="#000" stroke-width="1.10"/>
<line x1="161.25" y1="501.08" x2="166.75" y2="501.08" stroke="#000" stroke-width="1.10"/>
<rect x="158.60" y="505.50" width="10.80" height="66.30" fill="#0233ab" stroke="#000" stroke-width="1.10"/>
<line x1="180.00" y1="571.80" x2="180.00" y2="574.60" stroke="#000" stroke-width="1.00"/>
<line x1="180.00" y1="496.66" x2="180.00" y2="493.57" stroke="#000" stroke-width="1.10"/>
<line x1="177.25" y1="493.57" x2="182.75" y2="493.57" stroke="#000" stroke-width="1.10"/>
<rect x="174.60" y="496.66" width="10.80" height="75.14" fill="#c90016" stroke="#000" stroke-width="1.10"/>
<line x1="196.30" y1="571.80" x2="196.30" y2="574.60" stroke="#000" stroke-width="1.00"/>
<line x1="196.30" y1="497.54" x2="196.30" y2="490.03" stroke="#000" stroke-width="1.10"/>
<line x1="193.55" y1="490.03" x2="199.05" y2="490.03" stroke="#000" stroke-width="1.10"/>
<rect x="190.90" y="497.54" width="10.80" height="74.26" fill="#c90016" stroke="#000" stroke-width="1.10"/>
<line x1="212.90" y1="571.80" x2="212.90" y2="574.60" stroke="#000" stroke-width="1.00"/>
<line x1="212.90" y1="500.20" x2="212.90" y2="498.87" stroke="#000" stroke-width="1.10"/>
<line x1="210.15" y1="498.87" x2="215.65" y2="498.87" stroke="#000" stroke-width="1.10"/>
<rect x="207.50" y="500.20" width="10.80" height="71.60" fill="#c90016" stroke="#000" stroke-width="1.10"/>
<path d="M131.7,528 L131.7,512.7 L147.7,512.7 L147.7,515.5" fill="none" stroke="#000" stroke-width="1.1"/>
<text x="134.10" y="510.80" font-size="7.60" textLength="11.20" lengthAdjust="spacingAndGlyphs" fill="#111" stroke="#111" stroke-width="0.22">n.s.</text>
<path d="M129.5,528 L129.5,496.2 L163.5,496.2 L163.5,500.8" fill="none" stroke="#000" stroke-width="1.1"/>
<polygon points="144.70,490.80 145.06,491.41 145.75,491.56 145.28,492.09 145.35,492.79 144.70,492.50 144.05,492.79 144.12,492.09 143.65,491.56 144.34,491.41" fill="#000" stroke="#000" stroke-width="0.35" stroke-linejoin="round"/>
<polygon points="148.20,490.80 148.56,491.41 149.25,491.56 148.78,492.09 148.85,492.79 148.20,492.50 147.55,492.79 147.62,492.09 147.15,491.56 147.84,491.41" fill="#000" stroke="#000" stroke-width="0.35" stroke-linejoin="round"/>
<text x="23.30" y="585.40" font-size="8.00" textLength="45.90" lengthAdjust="spacingAndGlyphs" fill="#111" stroke="#111" stroke-width="0.22">siOGA 50nM</text>
<line x1="80.25" y1="583.00" x2="83.75" y2="583.00" stroke="#222" stroke-width="0.95"/>
<line x1="96.15" y1="583.10" x2="99.85" y2="583.10" stroke="#222" stroke-width="0.95"/>
<line x1="98.00" y1="581.25" x2="98.00" y2="584.95" stroke="#222" stroke-width="0.95"/>
<line x1="112.75" y1="583.00" x2="116.25" y2="583.00" stroke="#222" stroke-width="0.95"/>
<line x1="129.50" y1="583.00" x2="133.00" y2="583.00" stroke="#222" stroke-width="0.95"/>
<line x1="145.65" y1="583.10" x2="149.35" y2="583.10" stroke="#222" stroke-width="0.95"/>
<line x1="147.50" y1="581.25" x2="147.50" y2="584.95" stroke="#222" stroke-width="0.95"/>
<line x1="161.50" y1="583.00" x2="165.00" y2="583.00" stroke="#222" stroke-width="0.95"/>
<line x1="178.25" y1="583.00" x2="181.75" y2="583.00" stroke="#222" stroke-width="0.95"/>
<line x1="194.90" y1="583.10" x2="198.60" y2="583.10" stroke="#222" stroke-width="0.95"/>
<line x1="196.75" y1="581.25" x2="196.75" y2="584.95" stroke="#222" stroke-width="0.95"/>
<line x1="211.25" y1="583.00" x2="214.75" y2="583.00" stroke="#222" stroke-width="0.95"/>
<text x="18.90" y="596.90" font-size="8.00" textLength="50.30" lengthAdjust="spacingAndGlyphs" fill="#111" stroke="#111" stroke-width="0.22">siOGA 300nM</text>
<line x1="80.25" y1="594.30" x2="83.75" y2="594.30" stroke="#222" stroke-width="0.95"/>
<line x1="96.25" y1="594.30" x2="99.75" y2="594.30" stroke="#222" stroke-width="0.95"/>
<line x1="112.65" y1="594.50" x2="116.35" y2="594.50" stroke="#222" stroke-width="0.95"/>
<line x1="114.50" y1="592.65" x2="114.50" y2="596.35" stroke="#222" stroke-width="0.95"/>
<line x1="129.50" y1="594.30" x2="133.00" y2="594.30" stroke="#222" stroke-width="0.95"/>
<line x1="145.75" y1="594.30" x2="149.25" y2="594.30" stroke="#222" stroke-width="0.95"/>
<line x1="161.40" y1="594.50" x2="165.10" y2="594.50" stroke="#222" stroke-width="0.95"/>
<line x1="163.25" y1="592.65" x2="163.25" y2="596.35" stroke="#222" stroke-width="0.95"/>
<line x1="178.25" y1="594.30" x2="181.75" y2="594.30" stroke="#222" stroke-width="0.95"/>
<line x1="195.00" y1="594.30" x2="198.50" y2="594.30" stroke="#222" stroke-width="0.95"/>
<line x1="211.15" y1="594.50" x2="214.85" y2="594.50" stroke="#222" stroke-width="0.95"/>
<line x1="213.00" y1="592.65" x2="213.00" y2="596.35" stroke="#222" stroke-width="0.95"/>
<text x="33.90" y="607.90" font-size="8.00" textLength="35.30" lengthAdjust="spacingAndGlyphs" fill="#111" stroke="#111" stroke-width="0.22">DNP-OVA</text>
<line x1="80.25" y1="605.20" x2="83.75" y2="605.20" stroke="#222" stroke-width="0.95"/>
<line x1="96.25" y1="605.20" x2="99.75" y2="605.20" stroke="#222" stroke-width="0.95"/>
<line x1="112.75" y1="605.20" x2="116.25" y2="605.20" stroke="#222" stroke-width="0.95"/>
<line x1="129.40" y1="605.60" x2="133.10" y2="605.60" stroke="#222" stroke-width="0.95"/>
<line x1="131.25" y1="603.75" x2="131.25" y2="607.45" stroke="#222" stroke-width="0.95"/>
<line x1="145.65" y1="605.60" x2="149.35" y2="605.60" stroke="#222" stroke-width="0.95"/>
<line x1="147.50" y1="603.75" x2="147.50" y2="607.45" stroke="#222" stroke-width="0.95"/>
<line x1="161.40" y1="605.60" x2="165.10" y2="605.60" stroke="#222" stroke-width="0.95"/>
<line x1="163.25" y1="603.75" x2="163.25" y2="607.45" stroke="#222" stroke-width="0.95"/>
<line x1="178.25" y1="605.20" x2="181.75" y2="605.20" stroke="#222" stroke-width="0.95"/>
<line x1="195.00" y1="605.20" x2="198.50" y2="605.20" stroke="#222" stroke-width="0.95"/>
<line x1="211.25" y1="605.20" x2="214.75" y2="605.20" stroke="#222" stroke-width="0.95"/>
<text x="33.40" y="619.40" font-size="8.00" textLength="35.80" lengthAdjust="spacingAndGlyphs" fill="#111" stroke="#111" stroke-width="0.22">Ionomycin</text>
<line x1="80.25" y1="617.30" x2="83.75" y2="617.30" stroke="#222" stroke-width="0.95"/>
<line x1="96.25" y1="617.30" x2="99.75" y2="617.30" stroke="#222" stroke-width="0.95"/>
<line x1="112.75" y1="617.30" x2="116.25" y2="617.30" stroke="#222" stroke-width="0.95"/>
<line x1="129.50" y1="617.30" x2="133.00" y2="617.30" stroke="#222" stroke-width="0.95"/>
<line x1="145.75" y1="617.30" x2="149.25" y2="617.30" stroke="#222" stroke-width="0.95"/>
<line x1="161.50" y1="617.30" x2="165.00" y2="617.30" stroke="#222" stroke-width="0.95"/>
<line x1="178.15" y1="617.20" x2="181.85" y2="617.20" stroke="#222" stroke-width="0.95"/>
<line x1="180.00" y1="615.35" x2="180.00" y2="619.05" stroke="#222" stroke-width="0.95"/>
<line x1="194.90" y1="617.20" x2="198.60" y2="617.20" stroke="#222" stroke-width="0.95"/>
<line x1="196.75" y1="615.35" x2="196.75" y2="619.05" stroke="#222" stroke-width="0.95"/>
<line x1="211.15" y1="617.20" x2="214.85" y2="617.20" stroke="#222" stroke-width="0.95"/>
<line x1="213.00" y1="615.35" x2="213.00" y2="619.05" stroke="#222" stroke-width="0.95"/>
<line x1="76.20" y1="624.50" x2="119.50" y2="624.50" stroke="#000" stroke-width="1.30"/>
<line x1="176.25" y1="624.50" x2="218.00" y2="624.50" stroke="#000" stroke-width="1.30"/>
<text x="81.20" y="635.40" font-size="8.00" font-weight="bold" textLength="33.80" lengthAdjust="spacingAndGlyphs" fill="#111" stroke="#111" stroke-width="0.05">Negative</text>
<text x="85.00" y="644.00" font-size="8.00" font-weight="bold" textLength="25.80" lengthAdjust="spacingAndGlyphs" fill="#111" stroke="#111" stroke-width="0.05">control</text>
<text x="183.75" y="635.40" font-size="8.00" font-weight="bold" textLength="28.75" lengthAdjust="spacingAndGlyphs" fill="#111" stroke="#111" stroke-width="0.05">Positive</text>
<text x="185.00" y="644.00" font-size="8.00" font-weight="bold" textLength="26.25" lengthAdjust="spacingAndGlyphs" fill="#111" stroke="#111" stroke-width="0.05">control</text>
<text x="257.00" y="512.80" font-size="11.4" textLength="7.08" lengthAdjust="spacingAndGlyphs" fill="#000" stroke="#000" stroke-width="0.45">H</text>
<text x="294.00" y="531.00" font-size="8.30" textLength="17.60" lengthAdjust="spacingAndGlyphs" fill="#111" stroke="#111" stroke-width="0.22">– IgE</text>
<text x="343.30" y="531.00" font-size="8.30" textLength="20.20" lengthAdjust="spacingAndGlyphs" fill="#111" stroke="#111" stroke-width="0.22">+ IgE</text>
<line x1="283.60" y1="534.70" x2="329.00" y2="534.70" stroke="#8a8a8a" stroke-width="1.50"/>
<line x1="332.90" y1="534.70" x2="378.30" y2="534.70" stroke="#8a8a8a" stroke-width="1.50"/>
<line x1="280.20" y1="538.00" x2="280.20" y2="578.30" stroke="#8a8a8a" stroke-width="1.50"/>
<line x1="280.20" y1="582.20" x2="280.20" y2="621.10" stroke="#8a8a8a" stroke-width="1.50"/>
<text transform="translate(277.18 557.70) rotate(-90)" x="0" y="0" text-anchor="middle" font-size="8.60" textLength="17.80" lengthAdjust="spacingAndGlyphs" fill="#111" stroke="#111" stroke-width="0.22">CTRL</text>
<text transform="translate(277.18 600.80) rotate(-90)" x="0" y="0" text-anchor="middle" font-size="8.60" textLength="26.20" lengthAdjust="spacingAndGlyphs" fill="#111" stroke="#111" stroke-width="0.22">GlcNAc</text>
<defs><filter id="pblur" x="-5%" y="-5%" width="110%" height="110%"><feGaussianBlur stdDeviation="0.9"/></filter></defs>
<svg x="283.40" y="538.40" width="46.20" height="40.00" viewBox="0 0 100 90" preserveAspectRatio="none" overflow="hidden">
<rect x="0" y="0" width="100" height="90" fill="#fff"/>
<g filter="url(#pblur)">
<ellipse cx="42" cy="25" rx="7.5" ry="11" fill="#e8b6a0"/>
<path d="M0,21 C8,24 14,28 22,29 L48,31.8 C56,37 63,43 70,49.8 C75,54 80,60 84.7,66.7 C86.5,69 87.5,71 86.7,73 C85,76 83,77.3 78,78.5 C68,80.5 50,81.5 30,82.5 C18,83 8,84.5 0,86 Z" fill="#1c0f0b"/>
<ellipse cx="12" cy="55" rx="14" ry="22" fill="#4a2216" opacity="0.5"/>
<path d="M0,86 C20,83.5 50,81.5 80,79 L83,81.5 C60,84.5 30,86 0,88.5 Z" fill="#7d8c52" opacity="0.75"/>
<ellipse cx="74" cy="70" rx="5.5" ry="4.8" fill="#3a5aa0" opacity="0.8"/>
<circle cx="64" cy="56" r="2.6" fill="#050505"/>
<ellipse cx="27" cy="32" rx="11.5" ry="19.5" fill="#e2ad9a" transform="rotate(-6 27 32)"/>
<ellipse cx="28.5" cy="38" rx="6" ry="11.5" fill="#4aa2e2" transform="rotate(-6 28 38)"/>
<ellipse cx="29" cy="36" rx="2.5" ry="6" fill="#8fd0f5" opacity="0.7"/>
</g>
</svg>
<rect x="283.40" y="538.40" width="46.20" height="40.00" fill="none" stroke="#555" stroke-width="1.00"/>
<svg x="332.20" y="538.30" width="46.90" height="40.00" viewBox="0 0 100 90" preserveAspectRatio="none" overflow="hidden">
<rect x="0" y="0" width="100" height="90" fill="#fff"/>
<g filter="url(#pblur)">
<ellipse cx="49.5" cy="22" rx="7.5" ry="10" fill="#e8b6a0"/>
<path d="M100,15.7 L87.7,17.9 C80,20 70,25 60,27 L50.8,29.7 C45,31 40,33 38.5,35.1 C33,38 29,41 26.2,44.8 C22,49 20,52 18,55.5 C16,59 15,62 13.9,66.3 C13,70 12.5,73 13,75.5 C14,78 17,80.5 20.1,81.4 C28,81 33,80.5 38.5,80.3 C48,79 55,77.5 59,77.1 C70,76 75,75 79.5,75 C88,76 92,77.5 95.9,79.4 L100,80 Z" fill="#1e100b"/>
<ellipse cx="88" cy="42" rx="12" ry="22" fill="#4e2a1e" opacity="0.5"/>
<path d="M40,81 C60,78 80,76 100,81 L100,86 C80,84 60,84 40,83.5 Z" fill="#7d9252" opacity="0.7"/>
<rect x="86" y="81" width="12" height="7" fill="#2a2030"/>
<ellipse cx="24" cy="72" rx="8" ry="7" fill="#3a6ab0" opacity="0.85"/>
<circle cx="38.5" cy="54.5" r="3.6" fill="#4a2a1a"/>
<circle cx="38.5" cy="54.5" r="2.6" fill="#050505"/>
<ellipse cx="67.5" cy="27" rx="11.5" ry="20" fill="#e2ad9a"/>
<ellipse cx="67" cy="31" rx="7.5" ry="14" fill="#4aa2e2"/>
<ellipse cx="66" cy="28" rx="3" ry="8" fill="#8fd0f5" opacity="0.6"/>
</g>
</svg>
<rect x="332.20" y="538.30" width="46.90" height="40.00" fill="none" stroke="#555" stroke-width="1.00"/>
<svg x="283.40" y="581.40" width="46.20" height="39.50" viewBox="0 0 100 90" preserveAspectRatio="none" overflow="hidden">
<rect x="0" y="0" width="100" height="90" fill="#fff"/>
<g filter="url(#pblur)">
<ellipse cx="54" cy="15" rx="5" ry="9" fill="#b8bcc4"/>
<path d="M40,25 C45,20 52,19 58,20 C62,22 64,30 64.3,37.5 Z" fill="#0c0c10"/>
<path d="M0,6.4 C6,9 12,13 17.3,15 C25,18 32,22 37.8,24.6 C48,28 56,32 64.3,37.5 C69,42 72,45 74.5,48.2 C78,54 80,58 82.7,63.2 C85,67 86.5,71 86.7,73.9 C85,77 82,79 78.6,80.4 C65,80.5 55,80.4 48,80.4 C38,81 30,82 23.5,82.5 C15,84 8,86 0,89 Z" fill="#0c0c10"/>
<path d="M20,83 C40,80.5 60,80 80,80 L78,84 C60,85 40,86 20,86 Z" fill="#7a9a60" opacity="0.6"/>
<ellipse cx="4" cy="32" rx="5" ry="7.5" fill="#3a8ad0" opacity="0.8"/>
<ellipse cx="74.5" cy="73" rx="6" ry="5.5" fill="#2a5ad0" opacity="0.85"/>
<ellipse cx="23.5" cy="34" rx="11.5" ry="20.5" fill="#9a8a88"/>
<ellipse cx="25.5" cy="37.5" rx="7" ry="15" fill="#2a7ae0"/>
<ellipse cx="26" cy="35" rx="2.5" ry="8" fill="#70c0f8" opacity="0.7"/>
</g>
</svg>
<rect x="283.40" y="581.40" width="46.20" height="39.50" fill="none" stroke="#555" stroke-width="1.00"/>
<svg x="332.20" y="581.40" width="46.90" height="39.90" viewBox="0 0 100 90" preserveAspectRatio="none" overflow="hidden">
<rect x="0" y="0" width="100" height="90" fill="#fff"/>
<g filter="url(#pblur)">
<ellipse cx="91" cy="22" rx="8" ry="8" fill="#0a0a0e"/>
<ellipse cx="56.5" cy="21.7" rx="6.5" ry="12" fill="#c0bcb8"/>
<path d="M100,14.1 C95,15 90,16 85,17 C75,20 65,25 55,29 L50.8,31.4 C45,33 41,34 38.5,35.8 C33,39 29,41 26.2,44.5 C22,49 20,52 18,55.3 C15.5,59 14,62 12.9,66.1 C12,70 11.5,73 11.9,74.8 C13,78 15,80 18,81.3 C25,81.3 31,81.3 38.5,81.3 C50,81 60,80 69.3,79.2 C78,80 85,82 89.8,83.5 L100,87 Z" fill="#0c0c10"/>
<ellipse cx="57" cy="30" rx="7" ry="5" fill="#0c0c10"/>
<path d="M20,82 C50,81 70,79 100,86 L100,89 C70,85 50,85 20,85 Z" fill="#7a9a60" opacity="0.6"/>
<ellipse cx="23" cy="73.5" rx="8" ry="7.5" fill="#2a5ad0" opacity="0.85"/>
<ellipse cx="73.4" cy="32.5" rx="14.3" ry="19.5" fill="#a89890"/>
<ellipse cx="73" cy="33" rx="11" ry="17" fill="#2a7ae0"/>
<path d="M66,22 C70,30 72,40 76,48 M70,18 C74,26 78,34 80,40" stroke="#7ac4f8" stroke-width="2.5" fill="none" opacity="0.7"/>
</g>
</svg>
<rect x="332.20" y="581.40" width="46.90" height="39.90" fill="none" stroke="#555" stroke-width="1.00"/>
<line x1="430.30" y1="527.09" x2="430.30" y2="619.00" stroke="#000" stroke-width="1.30"/>
<line x1="426.40" y1="618.40" x2="430.30" y2="618.40" stroke="#000" stroke-width="1.30"/>
<text x="420.46" y="620.56" font-size="8.00" textLength="4.14" lengthAdjust="spacingAndGlyphs" fill="#111" stroke="#111" stroke-width="0.22">0</text>
<line x1="426.40" y1="588.16" x2="430.30" y2="588.16" stroke="#000" stroke-width="1.30"/>
<text x="414.26" y="590.32" font-size="8.00" textLength="10.34" lengthAdjust="spacingAndGlyphs" fill="#111" stroke="#111" stroke-width="0.22">0.5</text>
<line x1="426.40" y1="557.93" x2="430.30" y2="557.93" stroke="#000" stroke-width="1.30"/>
<text x="420.46" y="560.09" font-size="8.00" textLength="4.14" lengthAdjust="spacingAndGlyphs" fill="#111" stroke="#111" stroke-width="0.22">1</text>
<line x1="426.40" y1="527.69" x2="430.30" y2="527.69" stroke="#000" stroke-width="1.30"/>
<text x="414.26" y="529.85" font-size="8.00" textLength="10.34" lengthAdjust="spacingAndGlyphs" fill="#111" stroke="#111" stroke-width="0.22">1.5</text>
<line x1="426.60" y1="618.40" x2="513.50" y2="618.40" stroke="#000" stroke-width="1.20"/>
<line x1="451.20" y1="618.40" x2="451.20" y2="621.20" stroke="#000" stroke-width="1.00"/>
<line x1="492.70" y1="618.40" x2="492.70" y2="621.20" stroke="#000" stroke-width="1.00"/>
<line x1="449.80" y1="524.90" x2="492.60" y2="524.90" stroke="#222" stroke-width="1.50"/>
<polygon points="468.40,519.50 468.66,519.94 469.16,520.05 468.82,520.44 468.87,520.95 468.40,520.74 467.93,520.95 467.98,520.44 467.64,520.05 468.14,519.94" fill="#000" stroke="#000" stroke-width="0.35" stroke-linejoin="round"/>
<polygon points="470.70,519.50 470.96,519.94 471.46,520.05 471.12,520.44 471.17,520.95 470.70,520.74 470.23,520.95 470.28,520.44 469.94,520.05 470.44,519.94" fill="#000" stroke="#000" stroke-width="0.35" stroke-linejoin="round"/>
<polygon points="473.00,519.50 473.26,519.94 473.76,520.05 473.42,520.44 473.47,520.95 473.00,520.74 472.53,520.95 472.58,520.44 472.24,520.05 472.74,519.94" fill="#000" stroke="#000" stroke-width="0.35" stroke-linejoin="round"/>
<text transform="translate(398.52 573.30) rotate(-90)" x="0" y="0" text-anchor="middle" font-size="9.20" textLength="79.40" lengthAdjust="spacingAndGlyphs" fill="#111" stroke="#111" stroke-width="0.22">Evan’s blue dye leakage</text>
<text transform="translate(410.68 572.90) rotate(-90)" x="0" y="0" text-anchor="middle" font-size="8.60" textLength="44.70" lengthAdjust="spacingAndGlyphs" fill="#111" stroke="#111" stroke-width="0.22">(OD 650 nm)</text>
<text x="442.60" y="632.40" font-size="9.20" textLength="19.00" lengthAdjust="spacingAndGlyphs" fill="#111" stroke="#111" stroke-width="0.22">CTRL</text>
<text x="479.00" y="632.40" font-size="9.20" textLength="28.00" lengthAdjust="spacingAndGlyphs" fill="#111" stroke="#111" stroke-width="0.22">GlcNAc</text>
<ellipse cx="447.50" cy="553.10" rx="1.2" ry="1.6" fill="#fb6e08"/>
<ellipse cx="450.80" cy="558.80" rx="1.2" ry="1.6" fill="#fb6e08"/>
<ellipse cx="454.50" cy="556.10" rx="1.2" ry="1.6" fill="#fb6e08"/>
<ellipse cx="444.40" cy="566.70" rx="1.2" ry="1.6" fill="#fb6e08"/>
<ellipse cx="457.50" cy="564.60" rx="1.2" ry="1.6" fill="#fb6e08"/>
<ellipse cx="438.50" cy="572.40" rx="1.2" ry="1.6" fill="#fb6e08"/>
<ellipse cx="441.80" cy="572.70" rx="1.2" ry="1.6" fill="#fb6e08"/>
<ellipse cx="446.80" cy="569.50" rx="1.2" ry="1.6" fill="#fb6e08"/>
<ellipse cx="451.20" cy="569.10" rx="1.2" ry="1.6" fill="#fb6e08"/>
<ellipse cx="454.20" cy="568.80" rx="1.2" ry="1.6" fill="#fb6e08"/>
<ellipse cx="463.20" cy="572.70" rx="1.2" ry="1.6" fill="#fb6e08"/>
<ellipse cx="447.70" cy="574.00" rx="1.2" ry="1.6" fill="#fb6e08"/>
<ellipse cx="450.90" cy="577.60" rx="1.2" ry="1.6" fill="#fb6e08"/>
<ellipse cx="454.20" cy="576.50" rx="1.2" ry="1.6" fill="#fb6e08"/>
<ellipse cx="444.70" cy="574.00" rx="1.2" ry="1.6" fill="#fb6e08"/>
<ellipse cx="459.40" cy="573.20" rx="1.2" ry="1.6" fill="#fb6e08"/>
<ellipse cx="449.30" cy="582.20" rx="1.2" ry="1.6" fill="#fb6e08"/>
<ellipse cx="452.60" cy="587.10" rx="1.2" ry="1.6" fill="#fb6e08"/>
<ellipse cx="449.30" cy="593.30" rx="1.2" ry="1.6" fill="#fb6e08"/>
<ellipse cx="452.60" cy="592.00" rx="1.2" ry="1.6" fill="#fb6e08"/>
<line x1="437.40" y1="572.70" x2="464.70" y2="572.70" stroke="#111" stroke-width="1.50"/>
<line x1="444.40" y1="570.40" x2="457.80" y2="570.40" stroke="#333" stroke-width="1.00"/>
<line x1="444.40" y1="575.20" x2="457.80" y2="575.20" stroke="#333" stroke-width="1.00"/>
<line x1="451.10" y1="570.40" x2="451.10" y2="575.20" stroke="#333" stroke-width="1.00"/>
<rect x="489.70" y="531.70" width="2.2" height="3.0" fill="#0323a8"/>
<rect x="493.50" y="531.70" width="2.2" height="3.0" fill="#0323a8"/>
<rect x="489.70" y="538.20" width="2.2" height="3.0" fill="#0323a8"/>
<rect x="493.50" y="538.20" width="2.2" height="3.0" fill="#0323a8"/>
<rect x="491.80" y="544.40" width="2.2" height="3.0" fill="#0323a8"/>
<rect x="488.10" y="550.10" width="2.2" height="3.0" fill="#0323a8"/>
<rect x="491.80" y="550.10" width="2.2" height="3.0" fill="#0323a8"/>
<rect x="495.10" y="550.10" width="2.2" height="3.0" fill="#0323a8"/>
<rect x="490.20" y="556.20" width="2.2" height="3.0" fill="#0323a8"/>
<rect x="493.30" y="556.20" width="2.2" height="3.0" fill="#0323a8"/>
<rect x="486.10" y="562.70" width="2.2" height="3.0" fill="#0323a8"/>
<rect x="489.70" y="562.70" width="2.2" height="3.0" fill="#0323a8"/>
<rect x="493.50" y="562.70" width="2.2" height="3.0" fill="#0323a8"/>
<rect x="497.10" y="562.70" width="2.2" height="3.0" fill="#0323a8"/>
<rect x="486.10" y="568.50" width="2.2" height="3.0" fill="#0323a8"/>
<rect x="489.70" y="568.50" width="2.2" height="3.0" fill="#0323a8"/>
<rect x="493.50" y="568.50" width="2.2" height="3.0" fill="#0323a8"/>
<rect x="497.10" y="568.50" width="2.2" height="3.0" fill="#0323a8"/>
<rect x="489.70" y="575.00" width="2.2" height="3.0" fill="#0323a8"/>
<rect x="493.50" y="575.00" width="2.2" height="3.0" fill="#0323a8"/>
<line x1="479.00" y1="557.70" x2="506.50" y2="557.70" stroke="#111" stroke-width="1.50"/>
<line x1="485.60" y1="554.70" x2="500.30" y2="554.70" stroke="#333" stroke-width="1.00"/>
<line x1="485.60" y1="560.60" x2="500.30" y2="560.60" stroke="#333" stroke-width="1.00"/>
<line x1="492.90" y1="554.70" x2="492.90" y2="560.60" stroke="#333" stroke-width="1.00"/>
<path d="M0,0H520V651H0Z M1.35,1.35V649.65H518.65V1.35Z" fill="#000" fill-rule="evenodd"/>
</svg></body></html>
